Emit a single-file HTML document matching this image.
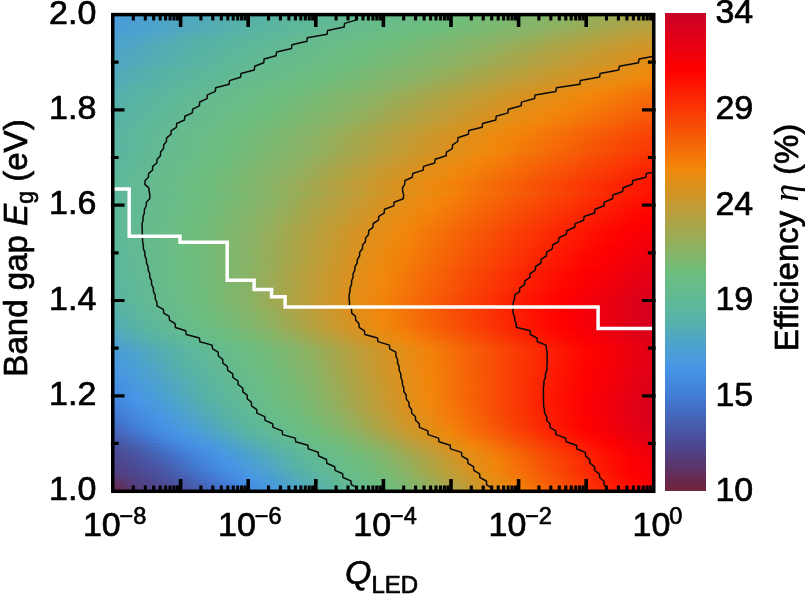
<!DOCTYPE html>
<html><head><meta charset="utf-8"><title>Efficiency map</title>
<style>html,body{margin:0;padding:0;background:#fff;overflow:hidden}svg{display:block}text{font-family:"Liberation Sans",Arial,Helvetica,sans-serif;fill:#000;stroke:#000;stroke-width:.7px;stroke-linejoin:round}</style></head><body>
<svg width="805" height="594" viewBox="0 0 805 594">
<rect width="805" height="594" fill="#fff"/>
<defs>
<linearGradient id="g0"><stop offset="0" stop-color="#499bda"/><stop offset="0.04167" stop-color="#4b9fd3"/><stop offset="0.08333" stop-color="#4ca2cd"/><stop offset="0.125" stop-color="#4fa6c4"/><stop offset="0.1667" stop-color="#51aabb"/><stop offset="0.2083" stop-color="#54aeb2"/><stop offset="0.25" stop-color="#56b1a9"/><stop offset="0.2917" stop-color="#59b3a4"/><stop offset="0.3333" stop-color="#5cb69e"/><stop offset="0.375" stop-color="#5eb899"/><stop offset="0.4167" stop-color="#61b994"/><stop offset="0.4583" stop-color="#64bb8e"/><stop offset="0.5" stop-color="#67bb8a"/><stop offset="0.5417" stop-color="#69bc86"/><stop offset="0.5833" stop-color="#6bbd82"/><stop offset="0.625" stop-color="#6ebe7e"/><stop offset="0.6667" stop-color="#73bc79"/><stop offset="0.7083" stop-color="#79ba74"/><stop offset="0.75" stop-color="#7eb76f"/><stop offset="0.7917" stop-color="#84b56a"/><stop offset="0.8333" stop-color="#8ab265"/><stop offset="0.875" stop-color="#93af5d"/><stop offset="0.9167" stop-color="#9cab55"/><stop offset="0.9583" stop-color="#a5a74d"/><stop offset="1" stop-color="#aea345"/></linearGradient>
<linearGradient id="g1"><stop offset="0" stop-color="#499cd9"/><stop offset="0.04167" stop-color="#4b9fd2"/><stop offset="0.08333" stop-color="#4da3cb"/><stop offset="0.125" stop-color="#4fa7c2"/><stop offset="0.1667" stop-color="#52abb9"/><stop offset="0.2083" stop-color="#54afb0"/><stop offset="0.25" stop-color="#57b2a8"/><stop offset="0.2917" stop-color="#5ab4a2"/><stop offset="0.3333" stop-color="#5db69d"/><stop offset="0.375" stop-color="#5fb897"/><stop offset="0.4167" stop-color="#62ba92"/><stop offset="0.4583" stop-color="#65bb8d"/><stop offset="0.5" stop-color="#67bc89"/><stop offset="0.5417" stop-color="#6abc85"/><stop offset="0.5833" stop-color="#6cbd81"/><stop offset="0.625" stop-color="#6fbe7c"/><stop offset="0.6667" stop-color="#75bb77"/><stop offset="0.7083" stop-color="#7bb972"/><stop offset="0.75" stop-color="#81b66d"/><stop offset="0.7917" stop-color="#86b468"/><stop offset="0.8333" stop-color="#8db162"/><stop offset="0.875" stop-color="#96ad5a"/><stop offset="0.9167" stop-color="#a0a952"/><stop offset="0.9583" stop-color="#a9a549"/><stop offset="1" stop-color="#b2a242"/></linearGradient>
<linearGradient id="g2"><stop offset="0" stop-color="#4a9cd8"/><stop offset="0.04167" stop-color="#4ba0d1"/><stop offset="0.08333" stop-color="#4da3ca"/><stop offset="0.125" stop-color="#50a7c0"/><stop offset="0.1667" stop-color="#52abb7"/><stop offset="0.2083" stop-color="#55afae"/><stop offset="0.25" stop-color="#58b2a7"/><stop offset="0.2917" stop-color="#5ab4a1"/><stop offset="0.3333" stop-color="#5db79c"/><stop offset="0.375" stop-color="#60b996"/><stop offset="0.4167" stop-color="#63ba91"/><stop offset="0.4583" stop-color="#65bb8c"/><stop offset="0.5" stop-color="#68bc88"/><stop offset="0.5417" stop-color="#6abd84"/><stop offset="0.5833" stop-color="#6dbd80"/><stop offset="0.625" stop-color="#70bd7b"/><stop offset="0.6667" stop-color="#76bb76"/><stop offset="0.7083" stop-color="#7cb871"/><stop offset="0.75" stop-color="#82b66b"/><stop offset="0.7917" stop-color="#88b366"/><stop offset="0.8333" stop-color="#90b05f"/><stop offset="0.875" stop-color="#99ac57"/><stop offset="0.9167" stop-color="#a3a84f"/><stop offset="0.9583" stop-color="#aca447"/><stop offset="1" stop-color="#b5a03f"/></linearGradient>
<linearGradient id="g3"><stop offset="0" stop-color="#4a9dd6"/><stop offset="0.04167" stop-color="#4ba1d0"/><stop offset="0.08333" stop-color="#4da4c8"/><stop offset="0.125" stop-color="#50a8be"/><stop offset="0.1667" stop-color="#53acb5"/><stop offset="0.2083" stop-color="#55b0ac"/><stop offset="0.25" stop-color="#58b3a6"/><stop offset="0.2917" stop-color="#5bb5a0"/><stop offset="0.3333" stop-color="#5eb79a"/><stop offset="0.375" stop-color="#61b995"/><stop offset="0.4167" stop-color="#64ba8f"/><stop offset="0.4583" stop-color="#66bb8b"/><stop offset="0.5" stop-color="#69bc87"/><stop offset="0.5417" stop-color="#6bbd82"/><stop offset="0.5833" stop-color="#6dbe7e"/><stop offset="0.625" stop-color="#72bc79"/><stop offset="0.6667" stop-color="#78ba74"/><stop offset="0.7083" stop-color="#7eb76f"/><stop offset="0.75" stop-color="#85b569"/><stop offset="0.7917" stop-color="#8bb264"/><stop offset="0.8333" stop-color="#94ae5c"/><stop offset="0.875" stop-color="#9daa54"/><stop offset="0.9167" stop-color="#a7a64b"/><stop offset="0.9583" stop-color="#b0a243"/><stop offset="1" stop-color="#b99f3b"/></linearGradient>
<linearGradient id="g4"><stop offset="0" stop-color="#4a9ed4"/><stop offset="0.04167" stop-color="#4ca2cd"/><stop offset="0.08333" stop-color="#4fa6c4"/><stop offset="0.125" stop-color="#51aabb"/><stop offset="0.1667" stop-color="#54aeb1"/><stop offset="0.2083" stop-color="#57b2a9"/><stop offset="0.25" stop-color="#5ab4a3"/><stop offset="0.2917" stop-color="#5cb69d"/><stop offset="0.3333" stop-color="#5fb898"/><stop offset="0.375" stop-color="#62ba92"/><stop offset="0.4167" stop-color="#65bb8d"/><stop offset="0.4583" stop-color="#67bc89"/><stop offset="0.5" stop-color="#6abd84"/><stop offset="0.5417" stop-color="#6cbd80"/><stop offset="0.5833" stop-color="#70bd7b"/><stop offset="0.625" stop-color="#76bb76"/><stop offset="0.6667" stop-color="#7cb871"/><stop offset="0.7083" stop-color="#82b66b"/><stop offset="0.75" stop-color="#88b366"/><stop offset="0.7917" stop-color="#90b05f"/><stop offset="0.8333" stop-color="#9aac57"/><stop offset="0.875" stop-color="#a4a84e"/><stop offset="0.9167" stop-color="#ada446"/><stop offset="0.9583" stop-color="#b6a03e"/><stop offset="1" stop-color="#c09c36"/></linearGradient>
<linearGradient id="g5"><stop offset="0" stop-color="#4ba0d1"/><stop offset="0.04167" stop-color="#4da4c9"/><stop offset="0.08333" stop-color="#50a8c0"/><stop offset="0.125" stop-color="#53acb6"/><stop offset="0.1667" stop-color="#55b0ad"/><stop offset="0.2083" stop-color="#58b3a6"/><stop offset="0.25" stop-color="#5bb5a0"/><stop offset="0.2917" stop-color="#5eb79a"/><stop offset="0.3333" stop-color="#61b995"/><stop offset="0.375" stop-color="#64ba8f"/><stop offset="0.4167" stop-color="#66bb8b"/><stop offset="0.4583" stop-color="#69bc86"/><stop offset="0.5" stop-color="#6bbd82"/><stop offset="0.5417" stop-color="#6ebe7d"/><stop offset="0.5833" stop-color="#74bc78"/><stop offset="0.625" stop-color="#7ab973"/><stop offset="0.6667" stop-color="#80b76d"/><stop offset="0.7083" stop-color="#86b468"/><stop offset="0.75" stop-color="#8db162"/><stop offset="0.7917" stop-color="#97ad59"/><stop offset="0.8333" stop-color="#a1a951"/><stop offset="0.875" stop-color="#aba548"/><stop offset="0.9167" stop-color="#b4a140"/><stop offset="0.9583" stop-color="#bd9d38"/><stop offset="1" stop-color="#c79930"/></linearGradient>
<linearGradient id="g6"><stop offset="0" stop-color="#4ca1cf"/><stop offset="0.04167" stop-color="#4ea5c6"/><stop offset="0.08333" stop-color="#51a9bc"/><stop offset="0.125" stop-color="#54aeb2"/><stop offset="0.1667" stop-color="#56b1a9"/><stop offset="0.2083" stop-color="#59b4a3"/><stop offset="0.25" stop-color="#5cb69d"/><stop offset="0.2917" stop-color="#5fb898"/><stop offset="0.3333" stop-color="#62ba92"/><stop offset="0.375" stop-color="#65bb8d"/><stop offset="0.4167" stop-color="#68bc88"/><stop offset="0.4583" stop-color="#6abd84"/><stop offset="0.5" stop-color="#6dbe7f"/><stop offset="0.5417" stop-color="#71bd7a"/><stop offset="0.5833" stop-color="#77ba75"/><stop offset="0.625" stop-color="#7eb86f"/><stop offset="0.6667" stop-color="#84b56a"/><stop offset="0.7083" stop-color="#8ab265"/><stop offset="0.75" stop-color="#93ae5c"/><stop offset="0.7917" stop-color="#9daa54"/><stop offset="0.8333" stop-color="#a7a64b"/><stop offset="0.875" stop-color="#b1a243"/><stop offset="0.9167" stop-color="#ba9e3a"/><stop offset="0.9583" stop-color="#c49a32"/><stop offset="1" stop-color="#cd962a"/></linearGradient>
<linearGradient id="g7"><stop offset="0" stop-color="#4ca2cc"/><stop offset="0.04167" stop-color="#4fa6c3"/><stop offset="0.08333" stop-color="#52abb9"/><stop offset="0.125" stop-color="#55afaf"/><stop offset="0.1667" stop-color="#57b2a7"/><stop offset="0.2083" stop-color="#5ab5a1"/><stop offset="0.25" stop-color="#5db79b"/><stop offset="0.2917" stop-color="#60b995"/><stop offset="0.3333" stop-color="#64ba90"/><stop offset="0.375" stop-color="#66bb8b"/><stop offset="0.4167" stop-color="#69bc86"/><stop offset="0.4583" stop-color="#6bbd82"/><stop offset="0.5" stop-color="#6ebe7d"/><stop offset="0.5417" stop-color="#74bc78"/><stop offset="0.5833" stop-color="#7ab972"/><stop offset="0.625" stop-color="#80b66d"/><stop offset="0.6667" stop-color="#87b467"/><stop offset="0.7083" stop-color="#8eb061"/><stop offset="0.75" stop-color="#99ac58"/><stop offset="0.7917" stop-color="#a3a84f"/><stop offset="0.8333" stop-color="#ada446"/><stop offset="0.875" stop-color="#b6a03e"/><stop offset="0.9167" stop-color="#c09c36"/><stop offset="0.9583" stop-color="#c9982d"/><stop offset="1" stop-color="#d39425"/></linearGradient>
<linearGradient id="g8"><stop offset="0" stop-color="#4da3ca"/><stop offset="0.04167" stop-color="#50a7c0"/><stop offset="0.08333" stop-color="#52acb6"/><stop offset="0.125" stop-color="#55b0ac"/><stop offset="0.1667" stop-color="#58b3a6"/><stop offset="0.2083" stop-color="#5bb5a0"/><stop offset="0.25" stop-color="#5eb89a"/><stop offset="0.2917" stop-color="#61b994"/><stop offset="0.3333" stop-color="#64bb8e"/><stop offset="0.375" stop-color="#67bb8a"/><stop offset="0.4167" stop-color="#6abc85"/><stop offset="0.4583" stop-color="#6cbd80"/><stop offset="0.5" stop-color="#70bd7c"/><stop offset="0.5417" stop-color="#76bb76"/><stop offset="0.5833" stop-color="#7cb870"/><stop offset="0.625" stop-color="#83b56b"/><stop offset="0.6667" stop-color="#89b365"/><stop offset="0.7083" stop-color="#93af5d"/><stop offset="0.75" stop-color="#9dab54"/><stop offset="0.7917" stop-color="#a7a64b"/><stop offset="0.8333" stop-color="#b1a243"/><stop offset="0.875" stop-color="#bb9e3a"/><stop offset="0.9167" stop-color="#c49a32"/><stop offset="0.9583" stop-color="#ce962a"/><stop offset="1" stop-color="#d79221"/></linearGradient>
<linearGradient id="g9"><stop offset="0" stop-color="#4da4c8"/><stop offset="0.04167" stop-color="#50a8be"/><stop offset="0.08333" stop-color="#53adb4"/><stop offset="0.125" stop-color="#56b1aa"/><stop offset="0.1667" stop-color="#59b3a4"/><stop offset="0.2083" stop-color="#5cb69e"/><stop offset="0.25" stop-color="#5fb898"/><stop offset="0.2917" stop-color="#62ba92"/><stop offset="0.3333" stop-color="#65bb8d"/><stop offset="0.375" stop-color="#68bc88"/><stop offset="0.4167" stop-color="#6abd83"/><stop offset="0.4583" stop-color="#6dbe7f"/><stop offset="0.5" stop-color="#72bc79"/><stop offset="0.5417" stop-color="#79ba74"/><stop offset="0.5833" stop-color="#7fb76e"/><stop offset="0.625" stop-color="#86b468"/><stop offset="0.6667" stop-color="#8db162"/><stop offset="0.7083" stop-color="#97ad59"/><stop offset="0.75" stop-color="#a1a950"/><stop offset="0.7917" stop-color="#aca447"/><stop offset="0.8333" stop-color="#b6a03f"/><stop offset="0.875" stop-color="#bf9c36"/><stop offset="0.9167" stop-color="#c9982e"/><stop offset="0.9583" stop-color="#d39425"/><stop offset="1" stop-color="#dd901d"/></linearGradient>
<linearGradient id="g10"><stop offset="0" stop-color="#4ea5c6"/><stop offset="0.04167" stop-color="#51aabb"/><stop offset="0.08333" stop-color="#54aeb1"/><stop offset="0.125" stop-color="#57b2a8"/><stop offset="0.1667" stop-color="#5ab4a2"/><stop offset="0.2083" stop-color="#5db79c"/><stop offset="0.25" stop-color="#60b996"/><stop offset="0.2917" stop-color="#63ba90"/><stop offset="0.3333" stop-color="#66bb8b"/><stop offset="0.375" stop-color="#69bc86"/><stop offset="0.4167" stop-color="#6bbd82"/><stop offset="0.4583" stop-color="#6ebe7d"/><stop offset="0.5" stop-color="#75bb77"/><stop offset="0.5417" stop-color="#7bb972"/><stop offset="0.5833" stop-color="#82b66c"/><stop offset="0.625" stop-color="#88b366"/><stop offset="0.6667" stop-color="#91af5e"/><stop offset="0.7083" stop-color="#9cab55"/><stop offset="0.75" stop-color="#a6a74c"/><stop offset="0.7917" stop-color="#b0a243"/><stop offset="0.8333" stop-color="#ba9e3b"/><stop offset="0.875" stop-color="#c49a32"/><stop offset="0.9167" stop-color="#ce962a"/><stop offset="0.9583" stop-color="#d89221"/><stop offset="1" stop-color="#e18e19"/></linearGradient>
<linearGradient id="g11"><stop offset="0" stop-color="#4ea5c5"/><stop offset="0.04167" stop-color="#51aabb"/><stop offset="0.08333" stop-color="#54aeb1"/><stop offset="0.125" stop-color="#57b2a8"/><stop offset="0.1667" stop-color="#5ab4a2"/><stop offset="0.2083" stop-color="#5db79b"/><stop offset="0.25" stop-color="#60b995"/><stop offset="0.2917" stop-color="#64ba8f"/><stop offset="0.3333" stop-color="#66bb8b"/><stop offset="0.375" stop-color="#69bc86"/><stop offset="0.4167" stop-color="#6cbd81"/><stop offset="0.4583" stop-color="#6fbe7c"/><stop offset="0.5" stop-color="#76bb76"/><stop offset="0.5417" stop-color="#7cb871"/><stop offset="0.5833" stop-color="#83b56b"/><stop offset="0.625" stop-color="#89b365"/><stop offset="0.6667" stop-color="#93af5d"/><stop offset="0.7083" stop-color="#9eaa54"/><stop offset="0.75" stop-color="#a8a64a"/><stop offset="0.7917" stop-color="#b2a242"/><stop offset="0.8333" stop-color="#bc9d39"/><stop offset="0.875" stop-color="#c69930"/><stop offset="0.9167" stop-color="#d09528"/><stop offset="0.9583" stop-color="#da911f"/><stop offset="1" stop-color="#e38d17"/></linearGradient>
<linearGradient id="g12"><stop offset="0" stop-color="#4fa6c4"/><stop offset="0.04167" stop-color="#52aab9"/><stop offset="0.08333" stop-color="#55afaf"/><stop offset="0.125" stop-color="#58b2a7"/><stop offset="0.1667" stop-color="#5bb5a1"/><stop offset="0.2083" stop-color="#5eb79a"/><stop offset="0.25" stop-color="#61b994"/><stop offset="0.2917" stop-color="#64bb8e"/><stop offset="0.3333" stop-color="#67bb8a"/><stop offset="0.375" stop-color="#6abc85"/><stop offset="0.4167" stop-color="#6cbd80"/><stop offset="0.4583" stop-color="#71bd7b"/><stop offset="0.5" stop-color="#77ba75"/><stop offset="0.5417" stop-color="#7eb76f"/><stop offset="0.5833" stop-color="#85b569"/><stop offset="0.625" stop-color="#8bb263"/><stop offset="0.6667" stop-color="#96ad5a"/><stop offset="0.7083" stop-color="#a1a951"/><stop offset="0.75" stop-color="#aba447"/><stop offset="0.7917" stop-color="#b6a03f"/><stop offset="0.8333" stop-color="#c09c36"/><stop offset="0.875" stop-color="#ca982d"/><stop offset="0.9167" stop-color="#d49424"/><stop offset="0.9583" stop-color="#de8f1c"/><stop offset="1" stop-color="#e68c15"/></linearGradient>
<linearGradient id="g13"><stop offset="0" stop-color="#50a8bf"/><stop offset="0.04167" stop-color="#53adb4"/><stop offset="0.08333" stop-color="#56b1aa"/><stop offset="0.125" stop-color="#59b4a4"/><stop offset="0.1667" stop-color="#5cb69d"/><stop offset="0.2083" stop-color="#60b997"/><stop offset="0.25" stop-color="#63ba91"/><stop offset="0.2917" stop-color="#66bb8b"/><stop offset="0.3333" stop-color="#69bc87"/><stop offset="0.375" stop-color="#6bbd82"/><stop offset="0.4167" stop-color="#6ebe7d"/><stop offset="0.4583" stop-color="#75bb77"/><stop offset="0.5" stop-color="#7cb871"/><stop offset="0.5417" stop-color="#83b56b"/><stop offset="0.5833" stop-color="#89b365"/><stop offset="0.625" stop-color="#93af5d"/><stop offset="0.6667" stop-color="#9eaa53"/><stop offset="0.7083" stop-color="#a9a54a"/><stop offset="0.75" stop-color="#b3a141"/><stop offset="0.7917" stop-color="#bd9d38"/><stop offset="0.8333" stop-color="#c8992f"/><stop offset="0.875" stop-color="#d29426"/><stop offset="0.9167" stop-color="#dc901d"/><stop offset="0.9583" stop-color="#e58d16"/><stop offset="1" stop-color="#ed890e"/></linearGradient>
<linearGradient id="g14"><stop offset="0" stop-color="#51a9bd"/><stop offset="0.04167" stop-color="#54adb2"/><stop offset="0.08333" stop-color="#57b2a9"/><stop offset="0.125" stop-color="#5ab4a2"/><stop offset="0.1667" stop-color="#5db79c"/><stop offset="0.2083" stop-color="#60b996"/><stop offset="0.25" stop-color="#64ba8f"/><stop offset="0.2917" stop-color="#67bb8a"/><stop offset="0.3333" stop-color="#69bc85"/><stop offset="0.375" stop-color="#6cbd81"/><stop offset="0.4167" stop-color="#70bd7b"/><stop offset="0.4583" stop-color="#77ba75"/><stop offset="0.5" stop-color="#7eb76f"/><stop offset="0.5417" stop-color="#85b569"/><stop offset="0.5833" stop-color="#8cb263"/><stop offset="0.625" stop-color="#97ad5a"/><stop offset="0.6667" stop-color="#a2a850"/><stop offset="0.7083" stop-color="#ada446"/><stop offset="0.75" stop-color="#b7a03d"/><stop offset="0.7917" stop-color="#c19b34"/><stop offset="0.8333" stop-color="#cc972b"/><stop offset="0.875" stop-color="#d69322"/><stop offset="0.9167" stop-color="#e08f1a"/><stop offset="0.9583" stop-color="#e88b13"/><stop offset="1" stop-color="#f1880b"/></linearGradient>
<linearGradient id="g15"><stop offset="0" stop-color="#51a9bc"/><stop offset="0.04167" stop-color="#54aeb1"/><stop offset="0.08333" stop-color="#57b2a8"/><stop offset="0.125" stop-color="#5ab4a2"/><stop offset="0.1667" stop-color="#5db79b"/><stop offset="0.2083" stop-color="#61b995"/><stop offset="0.25" stop-color="#64ba8f"/><stop offset="0.2917" stop-color="#67bb8a"/><stop offset="0.3333" stop-color="#6abc85"/><stop offset="0.375" stop-color="#6cbd80"/><stop offset="0.4167" stop-color="#71bd7a"/><stop offset="0.4583" stop-color="#78ba74"/><stop offset="0.5" stop-color="#7fb76e"/><stop offset="0.5417" stop-color="#86b468"/><stop offset="0.5833" stop-color="#8eb161"/><stop offset="0.625" stop-color="#99ac58"/><stop offset="0.6667" stop-color="#a4a74e"/><stop offset="0.7083" stop-color="#afa344"/><stop offset="0.75" stop-color="#b99f3b"/><stop offset="0.7917" stop-color="#c49a32"/><stop offset="0.8333" stop-color="#ce9629"/><stop offset="0.875" stop-color="#d99220"/><stop offset="0.9167" stop-color="#e28e18"/><stop offset="0.9583" stop-color="#eb8a10"/><stop offset="1" stop-color="#f2860a"/></linearGradient>
<linearGradient id="g16"><stop offset="0" stop-color="#52abb9"/><stop offset="0.04167" stop-color="#55afae"/><stop offset="0.08333" stop-color="#58b3a6"/><stop offset="0.125" stop-color="#5bb59f"/><stop offset="0.1667" stop-color="#5fb899"/><stop offset="0.2083" stop-color="#62ba92"/><stop offset="0.25" stop-color="#65bb8c"/><stop offset="0.2917" stop-color="#68bc87"/><stop offset="0.3333" stop-color="#6bbd82"/><stop offset="0.375" stop-color="#6ebe7d"/><stop offset="0.4167" stop-color="#74bb77"/><stop offset="0.4583" stop-color="#7cb871"/><stop offset="0.5" stop-color="#83b56b"/><stop offset="0.5417" stop-color="#8ab265"/><stop offset="0.5833" stop-color="#94ae5c"/><stop offset="0.625" stop-color="#9fa952"/><stop offset="0.6667" stop-color="#aaa548"/><stop offset="0.7083" stop-color="#b5a03f"/><stop offset="0.75" stop-color="#c09c36"/><stop offset="0.7917" stop-color="#ca982d"/><stop offset="0.8333" stop-color="#d59323"/><stop offset="0.875" stop-color="#df8f1b"/><stop offset="0.9167" stop-color="#e88b13"/><stop offset="0.9583" stop-color="#f0880b"/><stop offset="1" stop-color="#f37f09"/></linearGradient>
<linearGradient id="g17"><stop offset="0" stop-color="#53acb6"/><stop offset="0.04167" stop-color="#56b1ab"/><stop offset="0.08333" stop-color="#59b3a4"/><stop offset="0.125" stop-color="#5cb69d"/><stop offset="0.1667" stop-color="#60b997"/><stop offset="0.2083" stop-color="#63ba90"/><stop offset="0.25" stop-color="#66bb8b"/><stop offset="0.2917" stop-color="#69bc86"/><stop offset="0.3333" stop-color="#6cbd81"/><stop offset="0.375" stop-color="#70bd7b"/><stop offset="0.4167" stop-color="#77ba75"/><stop offset="0.4583" stop-color="#7eb76f"/><stop offset="0.5" stop-color="#85b469"/><stop offset="0.5417" stop-color="#8db162"/><stop offset="0.5833" stop-color="#99ac58"/><stop offset="0.625" stop-color="#a4a84e"/><stop offset="0.6667" stop-color="#afa344"/><stop offset="0.7083" stop-color="#ba9e3b"/><stop offset="0.75" stop-color="#c59a32"/><stop offset="0.7917" stop-color="#cf9528"/><stop offset="0.8333" stop-color="#da911f"/><stop offset="0.875" stop-color="#e38d17"/><stop offset="0.9167" stop-color="#ec890f"/><stop offset="0.9583" stop-color="#f2840a"/><stop offset="1" stop-color="#f37a09"/></linearGradient>
<linearGradient id="g18"><stop offset="0" stop-color="#53adb3"/><stop offset="0.04167" stop-color="#57b2a9"/><stop offset="0.08333" stop-color="#5ab4a2"/><stop offset="0.125" stop-color="#5db79b"/><stop offset="0.1667" stop-color="#61b995"/><stop offset="0.2083" stop-color="#64bb8e"/><stop offset="0.25" stop-color="#67bc89"/><stop offset="0.2917" stop-color="#6abd84"/><stop offset="0.3333" stop-color="#6dbe7f"/><stop offset="0.375" stop-color="#73bc79"/><stop offset="0.4167" stop-color="#7ab973"/><stop offset="0.4583" stop-color="#81b66c"/><stop offset="0.5" stop-color="#88b366"/><stop offset="0.5417" stop-color="#92af5d"/><stop offset="0.5833" stop-color="#9eaa53"/><stop offset="0.625" stop-color="#a9a549"/><stop offset="0.6667" stop-color="#b4a140"/><stop offset="0.7083" stop-color="#bf9c36"/><stop offset="0.75" stop-color="#ca982d"/><stop offset="0.7917" stop-color="#d59323"/><stop offset="0.8333" stop-color="#df8f1a"/><stop offset="0.875" stop-color="#e88b13"/><stop offset="0.9167" stop-color="#f1870b"/><stop offset="0.9583" stop-color="#f37e09"/><stop offset="1" stop-color="#f47409"/></linearGradient>
<linearGradient id="g19"><stop offset="0" stop-color="#55afaf"/><stop offset="0.04167" stop-color="#58b3a6"/><stop offset="0.08333" stop-color="#5bb59f"/><stop offset="0.125" stop-color="#5fb898"/><stop offset="0.1667" stop-color="#62ba92"/><stop offset="0.2083" stop-color="#66bb8c"/><stop offset="0.25" stop-color="#69bc87"/><stop offset="0.2917" stop-color="#6bbd81"/><stop offset="0.3333" stop-color="#6fbe7c"/><stop offset="0.375" stop-color="#76ba76"/><stop offset="0.4167" stop-color="#7eb76f"/><stop offset="0.4583" stop-color="#85b469"/><stop offset="0.5" stop-color="#8db162"/><stop offset="0.5417" stop-color="#99ac58"/><stop offset="0.5833" stop-color="#a5a74d"/><stop offset="0.625" stop-color="#b0a344"/><stop offset="0.6667" stop-color="#bb9e3a"/><stop offset="0.7083" stop-color="#c69930"/><stop offset="0.75" stop-color="#d19527"/><stop offset="0.7917" stop-color="#dc901d"/><stop offset="0.8333" stop-color="#e58c15"/><stop offset="0.875" stop-color="#ee880d"/><stop offset="0.9167" stop-color="#f3810a"/><stop offset="0.9583" stop-color="#f47709"/><stop offset="1" stop-color="#f46d08"/></linearGradient>
<linearGradient id="g20"><stop offset="0" stop-color="#55b0ad"/><stop offset="0.04167" stop-color="#59b3a5"/><stop offset="0.08333" stop-color="#5cb69e"/><stop offset="0.125" stop-color="#60b997"/><stop offset="0.1667" stop-color="#63ba90"/><stop offset="0.2083" stop-color="#66bb8b"/><stop offset="0.25" stop-color="#69bc85"/><stop offset="0.2917" stop-color="#6cbd80"/><stop offset="0.3333" stop-color="#71bd7a"/><stop offset="0.375" stop-color="#79ba74"/><stop offset="0.4167" stop-color="#80b76d"/><stop offset="0.4583" stop-color="#87b367"/><stop offset="0.5" stop-color="#91af5f"/><stop offset="0.5417" stop-color="#9daa54"/><stop offset="0.5833" stop-color="#a9a64a"/><stop offset="0.625" stop-color="#b4a140"/><stop offset="0.6667" stop-color="#bf9c36"/><stop offset="0.7083" stop-color="#ca982d"/><stop offset="0.75" stop-color="#d59323"/><stop offset="0.7917" stop-color="#e08f1a"/><stop offset="0.8333" stop-color="#e98b12"/><stop offset="0.875" stop-color="#f2870a"/><stop offset="0.9167" stop-color="#f37d09"/><stop offset="0.9583" stop-color="#f47308"/><stop offset="1" stop-color="#f56908"/></linearGradient>
<linearGradient id="g21"><stop offset="0" stop-color="#56b1ab"/><stop offset="0.04167" stop-color="#59b4a4"/><stop offset="0.08333" stop-color="#5db69d"/><stop offset="0.125" stop-color="#60b996"/><stop offset="0.1667" stop-color="#64ba8f"/><stop offset="0.2083" stop-color="#67bb8a"/><stop offset="0.25" stop-color="#6abd84"/><stop offset="0.2917" stop-color="#6dbe7f"/><stop offset="0.3333" stop-color="#73bc79"/><stop offset="0.375" stop-color="#7ab972"/><stop offset="0.4167" stop-color="#82b66c"/><stop offset="0.4583" stop-color="#89b365"/><stop offset="0.5" stop-color="#94ae5c"/><stop offset="0.5417" stop-color="#a0a951"/><stop offset="0.5833" stop-color="#aca447"/><stop offset="0.625" stop-color="#b79f3d"/><stop offset="0.6667" stop-color="#c29b33"/><stop offset="0.7083" stop-color="#ce962a"/><stop offset="0.75" stop-color="#d99120"/><stop offset="0.7917" stop-color="#e38d17"/><stop offset="0.8333" stop-color="#ec890f"/><stop offset="0.875" stop-color="#f2830a"/><stop offset="0.9167" stop-color="#f37909"/><stop offset="0.9583" stop-color="#f46f08"/><stop offset="1" stop-color="#f56507"/></linearGradient>
<linearGradient id="g22"><stop offset="0" stop-color="#56b1aa"/><stop offset="0.04167" stop-color="#59b4a3"/><stop offset="0.08333" stop-color="#5db79c"/><stop offset="0.125" stop-color="#61b995"/><stop offset="0.1667" stop-color="#64bb8e"/><stop offset="0.2083" stop-color="#67bc89"/><stop offset="0.25" stop-color="#6abd84"/><stop offset="0.2917" stop-color="#6dbe7e"/><stop offset="0.3333" stop-color="#74bb78"/><stop offset="0.375" stop-color="#7cb871"/><stop offset="0.4167" stop-color="#83b56b"/><stop offset="0.4583" stop-color="#8bb264"/><stop offset="0.5" stop-color="#97ad5a"/><stop offset="0.5417" stop-color="#a3a84f"/><stop offset="0.5833" stop-color="#afa345"/><stop offset="0.625" stop-color="#ba9e3b"/><stop offset="0.6667" stop-color="#c59a31"/><stop offset="0.7083" stop-color="#d19527"/><stop offset="0.75" stop-color="#dc901d"/><stop offset="0.7917" stop-color="#e68c15"/><stop offset="0.8333" stop-color="#ef880d"/><stop offset="0.875" stop-color="#f38009"/><stop offset="0.9167" stop-color="#f47609"/><stop offset="0.9583" stop-color="#f56c08"/><stop offset="1" stop-color="#f66107"/></linearGradient>
<linearGradient id="g23"><stop offset="0" stop-color="#56b1a9"/><stop offset="0.04167" stop-color="#5ab4a2"/><stop offset="0.08333" stop-color="#5eb79b"/><stop offset="0.125" stop-color="#61b994"/><stop offset="0.1667" stop-color="#65bb8d"/><stop offset="0.2083" stop-color="#68bc88"/><stop offset="0.25" stop-color="#6bbd82"/><stop offset="0.2917" stop-color="#6ebe7d"/><stop offset="0.3333" stop-color="#76bb76"/><stop offset="0.375" stop-color="#7db870"/><stop offset="0.4167" stop-color="#85b469"/><stop offset="0.4583" stop-color="#8eb161"/><stop offset="0.5" stop-color="#9aac57"/><stop offset="0.5417" stop-color="#a6a74c"/><stop offset="0.5833" stop-color="#b2a242"/><stop offset="0.625" stop-color="#bd9d38"/><stop offset="0.6667" stop-color="#c9982e"/><stop offset="0.7083" stop-color="#d49324"/><stop offset="0.75" stop-color="#df8f1a"/><stop offset="0.7917" stop-color="#e98b12"/><stop offset="0.8333" stop-color="#f2870a"/><stop offset="0.875" stop-color="#f37c09"/><stop offset="0.9167" stop-color="#f47208"/><stop offset="0.9583" stop-color="#f56808"/><stop offset="1" stop-color="#f65d07"/></linearGradient>
<linearGradient id="g24"><stop offset="0" stop-color="#57b2a8"/><stop offset="0.04167" stop-color="#5bb5a1"/><stop offset="0.08333" stop-color="#5eb89a"/><stop offset="0.125" stop-color="#62ba92"/><stop offset="0.1667" stop-color="#65bb8c"/><stop offset="0.2083" stop-color="#69bc87"/><stop offset="0.25" stop-color="#6cbd81"/><stop offset="0.2917" stop-color="#70bd7b"/><stop offset="0.3333" stop-color="#78ba75"/><stop offset="0.375" stop-color="#7fb76e"/><stop offset="0.4167" stop-color="#87b467"/><stop offset="0.4583" stop-color="#91af5e"/><stop offset="0.5" stop-color="#9daa54"/><stop offset="0.5417" stop-color="#aaa549"/><stop offset="0.5833" stop-color="#b6a03f"/><stop offset="0.625" stop-color="#c19b35"/><stop offset="0.6667" stop-color="#cd962a"/><stop offset="0.7083" stop-color="#d89220"/><stop offset="0.75" stop-color="#e38d17"/><stop offset="0.7917" stop-color="#ed890f"/><stop offset="0.8333" stop-color="#f2830a"/><stop offset="0.875" stop-color="#f37809"/><stop offset="0.9167" stop-color="#f46e08"/><stop offset="0.9583" stop-color="#f56307"/><stop offset="1" stop-color="#f65907"/></linearGradient>
<linearGradient id="g25"><stop offset="0" stop-color="#57b2a7"/><stop offset="0.04167" stop-color="#5bb5a0"/><stop offset="0.08333" stop-color="#5fb899"/><stop offset="0.125" stop-color="#62ba92"/><stop offset="0.1667" stop-color="#66bb8c"/><stop offset="0.2083" stop-color="#69bc86"/><stop offset="0.25" stop-color="#6cbd80"/><stop offset="0.2917" stop-color="#71bd7a"/><stop offset="0.3333" stop-color="#79b973"/><stop offset="0.375" stop-color="#81b66d"/><stop offset="0.4167" stop-color="#89b366"/><stop offset="0.4583" stop-color="#94ae5c"/><stop offset="0.5" stop-color="#a0a951"/><stop offset="0.5417" stop-color="#ada447"/><stop offset="0.5833" stop-color="#b89f3c"/><stop offset="0.625" stop-color="#c49a32"/><stop offset="0.6667" stop-color="#d09528"/><stop offset="0.7083" stop-color="#dc901e"/><stop offset="0.75" stop-color="#e68c15"/><stop offset="0.7917" stop-color="#ef880c"/><stop offset="0.8333" stop-color="#f37f09"/><stop offset="0.875" stop-color="#f47509"/><stop offset="0.9167" stop-color="#f56a08"/><stop offset="0.9583" stop-color="#f66007"/><stop offset="1" stop-color="#f75506"/></linearGradient>
<linearGradient id="g26"><stop offset="0" stop-color="#58b2a7"/><stop offset="0.04167" stop-color="#5bb59f"/><stop offset="0.08333" stop-color="#5fb898"/><stop offset="0.125" stop-color="#63ba91"/><stop offset="0.1667" stop-color="#66bb8b"/><stop offset="0.2083" stop-color="#69bc85"/><stop offset="0.25" stop-color="#6dbe7f"/><stop offset="0.2917" stop-color="#72bc79"/><stop offset="0.3333" stop-color="#7ab972"/><stop offset="0.375" stop-color="#82b66b"/><stop offset="0.4167" stop-color="#8ab264"/><stop offset="0.4583" stop-color="#96ad5a"/><stop offset="0.5" stop-color="#a3a84f"/><stop offset="0.5417" stop-color="#afa344"/><stop offset="0.5833" stop-color="#bb9e3a"/><stop offset="0.625" stop-color="#c7992f"/><stop offset="0.6667" stop-color="#d39425"/><stop offset="0.7083" stop-color="#de8f1b"/><stop offset="0.75" stop-color="#e88b12"/><stop offset="0.7917" stop-color="#f2870a"/><stop offset="0.8333" stop-color="#f37c09"/><stop offset="0.875" stop-color="#f47208"/><stop offset="0.9167" stop-color="#f56708"/><stop offset="0.9583" stop-color="#f65c07"/><stop offset="1" stop-color="#f75206"/></linearGradient>
<linearGradient id="g27"><stop offset="0" stop-color="#59b3a5"/><stop offset="0.04167" stop-color="#5cb69d"/><stop offset="0.08333" stop-color="#60b996"/><stop offset="0.125" stop-color="#64ba8f"/><stop offset="0.1667" stop-color="#67bc89"/><stop offset="0.2083" stop-color="#6bbd83"/><stop offset="0.25" stop-color="#6ebe7e"/><stop offset="0.2917" stop-color="#75bb77"/><stop offset="0.3333" stop-color="#7db870"/><stop offset="0.375" stop-color="#85b469"/><stop offset="0.4167" stop-color="#8fb061"/><stop offset="0.4583" stop-color="#9bab55"/><stop offset="0.5" stop-color="#a8a64a"/><stop offset="0.5417" stop-color="#b4a140"/><stop offset="0.5833" stop-color="#c09c35"/><stop offset="0.625" stop-color="#cd972b"/><stop offset="0.6667" stop-color="#d99220"/><stop offset="0.7083" stop-color="#e38d17"/><stop offset="0.75" stop-color="#ed890e"/><stop offset="0.7917" stop-color="#f3810a"/><stop offset="0.8333" stop-color="#f47709"/><stop offset="0.875" stop-color="#f56c08"/><stop offset="0.9167" stop-color="#f66107"/><stop offset="0.9583" stop-color="#f75606"/><stop offset="1" stop-color="#f84b06"/></linearGradient>
<linearGradient id="g28"><stop offset="0" stop-color="#59b4a4"/><stop offset="0.04167" stop-color="#5db79c"/><stop offset="0.08333" stop-color="#61b995"/><stop offset="0.125" stop-color="#65bb8e"/><stop offset="0.1667" stop-color="#68bc88"/><stop offset="0.2083" stop-color="#6bbd82"/><stop offset="0.25" stop-color="#6fbe7c"/><stop offset="0.2917" stop-color="#77ba75"/><stop offset="0.3333" stop-color="#7fb76e"/><stop offset="0.375" stop-color="#87b367"/><stop offset="0.4167" stop-color="#92af5e"/><stop offset="0.4583" stop-color="#9faa52"/><stop offset="0.5" stop-color="#aca447"/><stop offset="0.5417" stop-color="#b89f3c"/><stop offset="0.5833" stop-color="#c49a32"/><stop offset="0.625" stop-color="#d09527"/><stop offset="0.6667" stop-color="#dd901d"/><stop offset="0.7083" stop-color="#e78c14"/><stop offset="0.75" stop-color="#f1870b"/><stop offset="0.7917" stop-color="#f37d09"/><stop offset="0.8333" stop-color="#f47208"/><stop offset="0.875" stop-color="#f56708"/><stop offset="0.9167" stop-color="#f65c07"/><stop offset="0.9583" stop-color="#f75206"/><stop offset="1" stop-color="#f84705"/></linearGradient>
<linearGradient id="g29"><stop offset="0" stop-color="#5ab4a3"/><stop offset="0.04167" stop-color="#5db79b"/><stop offset="0.08333" stop-color="#61b994"/><stop offset="0.125" stop-color="#65bb8d"/><stop offset="0.1667" stop-color="#68bc87"/><stop offset="0.2083" stop-color="#6cbd81"/><stop offset="0.25" stop-color="#70bd7b"/><stop offset="0.2917" stop-color="#79ba74"/><stop offset="0.3333" stop-color="#81b66d"/><stop offset="0.375" stop-color="#89b365"/><stop offset="0.4167" stop-color="#95ae5b"/><stop offset="0.4583" stop-color="#a2a850"/><stop offset="0.5" stop-color="#afa345"/><stop offset="0.5417" stop-color="#bb9e3a"/><stop offset="0.5833" stop-color="#c7992f"/><stop offset="0.625" stop-color="#d49424"/><stop offset="0.6667" stop-color="#e08f1a"/><stop offset="0.7083" stop-color="#ea8a11"/><stop offset="0.75" stop-color="#f2850a"/><stop offset="0.7917" stop-color="#f37a09"/><stop offset="0.8333" stop-color="#f46f08"/><stop offset="0.875" stop-color="#f56407"/><stop offset="0.9167" stop-color="#f65907"/><stop offset="0.9583" stop-color="#f84e06"/><stop offset="1" stop-color="#f94305"/></linearGradient>
<linearGradient id="g30"><stop offset="0" stop-color="#5ab4a2"/><stop offset="0.04167" stop-color="#5eb79a"/><stop offset="0.08333" stop-color="#62ba93"/><stop offset="0.125" stop-color="#66bb8c"/><stop offset="0.1667" stop-color="#69bc86"/><stop offset="0.2083" stop-color="#6cbd80"/><stop offset="0.25" stop-color="#72bc7a"/><stop offset="0.2917" stop-color="#7ab972"/><stop offset="0.3333" stop-color="#83b56b"/><stop offset="0.375" stop-color="#8bb264"/><stop offset="0.4167" stop-color="#98ad58"/><stop offset="0.4583" stop-color="#a5a74d"/><stop offset="0.5" stop-color="#b2a242"/><stop offset="0.5417" stop-color="#be9c37"/><stop offset="0.5833" stop-color="#cb972c"/><stop offset="0.625" stop-color="#d79221"/><stop offset="0.6667" stop-color="#e38d17"/><stop offset="0.7083" stop-color="#ed890e"/><stop offset="0.75" stop-color="#f3810a"/><stop offset="0.7917" stop-color="#f47609"/><stop offset="0.8333" stop-color="#f56b08"/><stop offset="0.875" stop-color="#f66007"/><stop offset="0.9167" stop-color="#f75506"/><stop offset="0.9583" stop-color="#f84905"/><stop offset="1" stop-color="#f93e05"/></linearGradient>
<linearGradient id="g31"><stop offset="0" stop-color="#5ab4a1"/><stop offset="0.04167" stop-color="#5eb89a"/><stop offset="0.08333" stop-color="#62ba92"/><stop offset="0.125" stop-color="#66bb8b"/><stop offset="0.1667" stop-color="#69bc85"/><stop offset="0.2083" stop-color="#6dbe7f"/><stop offset="0.25" stop-color="#73bc79"/><stop offset="0.2917" stop-color="#7bb871"/><stop offset="0.3333" stop-color="#84b56a"/><stop offset="0.375" stop-color="#8db162"/><stop offset="0.4167" stop-color="#9aac57"/><stop offset="0.4583" stop-color="#a7a64b"/><stop offset="0.5" stop-color="#b4a140"/><stop offset="0.5417" stop-color="#c19c35"/><stop offset="0.5833" stop-color="#cd962a"/><stop offset="0.625" stop-color="#da911f"/><stop offset="0.6667" stop-color="#e58c15"/><stop offset="0.7083" stop-color="#ef880c"/><stop offset="0.75" stop-color="#f37f09"/><stop offset="0.7917" stop-color="#f47309"/><stop offset="0.8333" stop-color="#f56808"/><stop offset="0.875" stop-color="#f65d07"/><stop offset="0.9167" stop-color="#f75206"/><stop offset="0.9583" stop-color="#f84605"/><stop offset="1" stop-color="#f93b04"/></linearGradient>
<linearGradient id="g32"><stop offset="0" stop-color="#5ab4a2"/><stop offset="0.04167" stop-color="#5eb79a"/><stop offset="0.08333" stop-color="#62ba92"/><stop offset="0.125" stop-color="#66bb8b"/><stop offset="0.1667" stop-color="#69bc85"/><stop offset="0.2083" stop-color="#6dbe7f"/><stop offset="0.25" stop-color="#73bc78"/><stop offset="0.2917" stop-color="#7cb871"/><stop offset="0.3333" stop-color="#84b56a"/><stop offset="0.375" stop-color="#8db162"/><stop offset="0.4167" stop-color="#9bab56"/><stop offset="0.4583" stop-color="#a8a64a"/><stop offset="0.5" stop-color="#b5a03f"/><stop offset="0.5417" stop-color="#c29b34"/><stop offset="0.5833" stop-color="#ce9629"/><stop offset="0.625" stop-color="#db911e"/><stop offset="0.6667" stop-color="#e68c14"/><stop offset="0.7083" stop-color="#f0880b"/><stop offset="0.75" stop-color="#f37d09"/><stop offset="0.7917" stop-color="#f47208"/><stop offset="0.8333" stop-color="#f56708"/><stop offset="0.875" stop-color="#f65b07"/><stop offset="0.9167" stop-color="#f75006"/><stop offset="0.9583" stop-color="#f84405"/><stop offset="1" stop-color="#fa3904"/></linearGradient>
<linearGradient id="g33"><stop offset="0" stop-color="#5ab4a2"/><stop offset="0.04167" stop-color="#5eb79a"/><stop offset="0.08333" stop-color="#62ba92"/><stop offset="0.125" stop-color="#66bb8b"/><stop offset="0.1667" stop-color="#69bc85"/><stop offset="0.2083" stop-color="#6dbe7f"/><stop offset="0.25" stop-color="#73bc78"/><stop offset="0.2917" stop-color="#7cb871"/><stop offset="0.3333" stop-color="#84b569"/><stop offset="0.375" stop-color="#8eb161"/><stop offset="0.4167" stop-color="#9cab55"/><stop offset="0.4583" stop-color="#a9a549"/><stop offset="0.5" stop-color="#b6a03e"/><stop offset="0.5417" stop-color="#c39b33"/><stop offset="0.5833" stop-color="#d09528"/><stop offset="0.625" stop-color="#dc901d"/><stop offset="0.6667" stop-color="#e78c14"/><stop offset="0.7083" stop-color="#f2870a"/><stop offset="0.75" stop-color="#f37c09"/><stop offset="0.7917" stop-color="#f47008"/><stop offset="0.8333" stop-color="#f56507"/><stop offset="0.875" stop-color="#f65907"/><stop offset="0.9167" stop-color="#f74e06"/><stop offset="0.9583" stop-color="#f94205"/><stop offset="1" stop-color="#fa3704"/></linearGradient>
<linearGradient id="g34"><stop offset="0" stop-color="#5ab4a2"/><stop offset="0.04167" stop-color="#5eb89a"/><stop offset="0.08333" stop-color="#62ba92"/><stop offset="0.125" stop-color="#66bb8b"/><stop offset="0.1667" stop-color="#6abc85"/><stop offset="0.2083" stop-color="#6dbe7f"/><stop offset="0.25" stop-color="#74bb78"/><stop offset="0.2917" stop-color="#7db870"/><stop offset="0.3333" stop-color="#85b469"/><stop offset="0.375" stop-color="#90b060"/><stop offset="0.4167" stop-color="#9daa54"/><stop offset="0.4583" stop-color="#aba548"/><stop offset="0.5" stop-color="#b89f3d"/><stop offset="0.5417" stop-color="#c59a31"/><stop offset="0.5833" stop-color="#d29426"/><stop offset="0.625" stop-color="#de8f1b"/><stop offset="0.6667" stop-color="#e98b12"/><stop offset="0.7083" stop-color="#f2850a"/><stop offset="0.75" stop-color="#f37a09"/><stop offset="0.7917" stop-color="#f46e08"/><stop offset="0.8333" stop-color="#f66207"/><stop offset="0.875" stop-color="#f75706"/><stop offset="0.9167" stop-color="#f84b06"/><stop offset="0.9583" stop-color="#f94005"/><stop offset="1" stop-color="#fa3404"/></linearGradient>
<linearGradient id="g35"><stop offset="0" stop-color="#5bb5a0"/><stop offset="0.04167" stop-color="#5fb898"/><stop offset="0.08333" stop-color="#63ba90"/><stop offset="0.125" stop-color="#67bb8a"/><stop offset="0.1667" stop-color="#6abd83"/><stop offset="0.2083" stop-color="#6ebe7d"/><stop offset="0.25" stop-color="#76ba76"/><stop offset="0.2917" stop-color="#7fb76e"/><stop offset="0.3333" stop-color="#88b366"/><stop offset="0.375" stop-color="#94ae5c"/><stop offset="0.4167" stop-color="#a2a850"/><stop offset="0.4583" stop-color="#afa344"/><stop offset="0.5" stop-color="#bd9d39"/><stop offset="0.5417" stop-color="#ca982d"/><stop offset="0.5833" stop-color="#d79222"/><stop offset="0.625" stop-color="#e38d17"/><stop offset="0.6667" stop-color="#ed890e"/><stop offset="0.7083" stop-color="#f38009"/><stop offset="0.75" stop-color="#f47409"/><stop offset="0.7917" stop-color="#f56908"/><stop offset="0.8333" stop-color="#f65d07"/><stop offset="0.875" stop-color="#f75106"/><stop offset="0.9167" stop-color="#f84505"/><stop offset="0.9583" stop-color="#f93a04"/><stop offset="1" stop-color="#fb2e03"/></linearGradient>
<linearGradient id="g36"><stop offset="0" stop-color="#5bb59f"/><stop offset="0.04167" stop-color="#5fb897"/><stop offset="0.08333" stop-color="#64ba8f"/><stop offset="0.125" stop-color="#67bc89"/><stop offset="0.1667" stop-color="#6bbd83"/><stop offset="0.2083" stop-color="#6fbe7c"/><stop offset="0.25" stop-color="#78ba75"/><stop offset="0.2917" stop-color="#80b66d"/><stop offset="0.3333" stop-color="#89b365"/><stop offset="0.375" stop-color="#96ad5a"/><stop offset="0.4167" stop-color="#a4a74e"/><stop offset="0.4583" stop-color="#b2a242"/><stop offset="0.5" stop-color="#bf9c36"/><stop offset="0.5417" stop-color="#cc972b"/><stop offset="0.5833" stop-color="#d9911f"/><stop offset="0.625" stop-color="#e58c15"/><stop offset="0.6667" stop-color="#f0880c"/><stop offset="0.7083" stop-color="#f37d09"/><stop offset="0.75" stop-color="#f47108"/><stop offset="0.7917" stop-color="#f56608"/><stop offset="0.8333" stop-color="#f65a07"/><stop offset="0.875" stop-color="#f84e06"/><stop offset="0.9167" stop-color="#f94205"/><stop offset="0.9583" stop-color="#fa3604"/><stop offset="1" stop-color="#fb2a03"/></linearGradient>
<linearGradient id="g37"><stop offset="0" stop-color="#5cb59f"/><stop offset="0.04167" stop-color="#60b997"/><stop offset="0.08333" stop-color="#64ba8f"/><stop offset="0.125" stop-color="#68bc88"/><stop offset="0.1667" stop-color="#6bbd82"/><stop offset="0.2083" stop-color="#70bd7b"/><stop offset="0.25" stop-color="#79b974"/><stop offset="0.2917" stop-color="#82b66c"/><stop offset="0.3333" stop-color="#8bb264"/><stop offset="0.375" stop-color="#99ac58"/><stop offset="0.4167" stop-color="#a7a64c"/><stop offset="0.4583" stop-color="#b4a140"/><stop offset="0.5" stop-color="#c29b34"/><stop offset="0.5417" stop-color="#cf9628"/><stop offset="0.5833" stop-color="#dc901d"/><stop offset="0.625" stop-color="#e88b13"/><stop offset="0.6667" stop-color="#f2860a"/><stop offset="0.7083" stop-color="#f37a09"/><stop offset="0.75" stop-color="#f46e08"/><stop offset="0.7917" stop-color="#f66207"/><stop offset="0.8333" stop-color="#f75606"/><stop offset="0.875" stop-color="#f84a06"/><stop offset="0.9167" stop-color="#f93e05"/><stop offset="0.9583" stop-color="#fa3204"/><stop offset="1" stop-color="#fb2603"/></linearGradient>
<linearGradient id="g38"><stop offset="0" stop-color="#5cb69e"/><stop offset="0.04167" stop-color="#60b995"/><stop offset="0.08333" stop-color="#65bb8d"/><stop offset="0.125" stop-color="#68bc87"/><stop offset="0.1667" stop-color="#6cbd81"/><stop offset="0.2083" stop-color="#72bc7a"/><stop offset="0.25" stop-color="#7bb972"/><stop offset="0.2917" stop-color="#84b56a"/><stop offset="0.3333" stop-color="#8eb161"/><stop offset="0.375" stop-color="#9cab55"/><stop offset="0.4167" stop-color="#aba548"/><stop offset="0.4583" stop-color="#b89f3c"/><stop offset="0.5" stop-color="#c69930"/><stop offset="0.5417" stop-color="#d39425"/><stop offset="0.5833" stop-color="#e08e19"/><stop offset="0.625" stop-color="#ec8a10"/><stop offset="0.6667" stop-color="#f2820a"/><stop offset="0.7083" stop-color="#f47609"/><stop offset="0.75" stop-color="#f56a08"/><stop offset="0.7917" stop-color="#f65d07"/><stop offset="0.8333" stop-color="#f75106"/><stop offset="0.875" stop-color="#f84505"/><stop offset="0.9167" stop-color="#fa3904"/><stop offset="0.9583" stop-color="#fb2d03"/><stop offset="1" stop-color="#fc2102"/></linearGradient>
<linearGradient id="g39"><stop offset="0" stop-color="#5cb69d"/><stop offset="0.04167" stop-color="#61b995"/><stop offset="0.08333" stop-color="#65bb8d"/><stop offset="0.125" stop-color="#69bc87"/><stop offset="0.1667" stop-color="#6cbd80"/><stop offset="0.2083" stop-color="#73bc79"/><stop offset="0.25" stop-color="#7cb871"/><stop offset="0.2917" stop-color="#85b569"/><stop offset="0.3333" stop-color="#8fb060"/><stop offset="0.375" stop-color="#9eaa53"/><stop offset="0.4167" stop-color="#aca447"/><stop offset="0.4583" stop-color="#ba9e3b"/><stop offset="0.5" stop-color="#c8992f"/><stop offset="0.5417" stop-color="#d59323"/><stop offset="0.5833" stop-color="#e28e18"/><stop offset="0.625" stop-color="#ed890e"/><stop offset="0.6667" stop-color="#f38009"/><stop offset="0.7083" stop-color="#f47309"/><stop offset="0.75" stop-color="#f56708"/><stop offset="0.7917" stop-color="#f65b07"/><stop offset="0.8333" stop-color="#f74f06"/><stop offset="0.875" stop-color="#f94205"/><stop offset="0.9167" stop-color="#fa3604"/><stop offset="0.9583" stop-color="#fb2a03"/><stop offset="1" stop-color="#fc1e02"/></linearGradient>
<linearGradient id="g40"><stop offset="0" stop-color="#5db69d"/><stop offset="0.04167" stop-color="#61b994"/><stop offset="0.08333" stop-color="#65bb8d"/><stop offset="0.125" stop-color="#69bc86"/><stop offset="0.1667" stop-color="#6dbd80"/><stop offset="0.2083" stop-color="#74bc78"/><stop offset="0.25" stop-color="#7db870"/><stop offset="0.2917" stop-color="#86b468"/><stop offset="0.3333" stop-color="#92af5e"/><stop offset="0.375" stop-color="#a0a951"/><stop offset="0.4167" stop-color="#afa344"/><stop offset="0.4583" stop-color="#bd9d38"/><stop offset="0.5" stop-color="#cb972c"/><stop offset="0.5417" stop-color="#d89220"/><stop offset="0.5833" stop-color="#e58d16"/><stop offset="0.625" stop-color="#f0880c"/><stop offset="0.6667" stop-color="#f37d09"/><stop offset="0.7083" stop-color="#f47008"/><stop offset="0.75" stop-color="#f56407"/><stop offset="0.7917" stop-color="#f75706"/><stop offset="0.8333" stop-color="#f84b06"/><stop offset="0.875" stop-color="#f93f05"/><stop offset="0.9167" stop-color="#fa3204"/><stop offset="0.9583" stop-color="#fb2603"/><stop offset="1" stop-color="#fc1a02"/></linearGradient>
<linearGradient id="g41"><stop offset="0" stop-color="#5db79c"/><stop offset="0.04167" stop-color="#62ba93"/><stop offset="0.08333" stop-color="#66bb8b"/><stop offset="0.125" stop-color="#6abc85"/><stop offset="0.1667" stop-color="#6dbe7e"/><stop offset="0.2083" stop-color="#76bb76"/><stop offset="0.25" stop-color="#7fb76e"/><stop offset="0.2917" stop-color="#88b366"/><stop offset="0.3333" stop-color="#95ae5b"/><stop offset="0.375" stop-color="#a4a74e"/><stop offset="0.4167" stop-color="#b3a141"/><stop offset="0.4583" stop-color="#c19c35"/><stop offset="0.5" stop-color="#cf9629"/><stop offset="0.5417" stop-color="#dd901c"/><stop offset="0.5833" stop-color="#e88b12"/><stop offset="0.625" stop-color="#f2850a"/><stop offset="0.6667" stop-color="#f37809"/><stop offset="0.7083" stop-color="#f56c08"/><stop offset="0.75" stop-color="#f65f07"/><stop offset="0.7917" stop-color="#f75306"/><stop offset="0.8333" stop-color="#f84605"/><stop offset="0.875" stop-color="#f93904"/><stop offset="0.9167" stop-color="#fb2d03"/><stop offset="0.9583" stop-color="#fc2002"/><stop offset="1" stop-color="#fd1502"/></linearGradient>
<linearGradient id="g42"><stop offset="0" stop-color="#5eb79b"/><stop offset="0.04167" stop-color="#62ba92"/><stop offset="0.08333" stop-color="#66bb8b"/><stop offset="0.125" stop-color="#6abd84"/><stop offset="0.1667" stop-color="#6ebe7d"/><stop offset="0.2083" stop-color="#77ba75"/><stop offset="0.25" stop-color="#80b66d"/><stop offset="0.2917" stop-color="#8ab265"/><stop offset="0.3333" stop-color="#98ad59"/><stop offset="0.375" stop-color="#a7a64b"/><stop offset="0.4167" stop-color="#b5a03f"/><stop offset="0.4583" stop-color="#c39a33"/><stop offset="0.5" stop-color="#d29426"/><stop offset="0.5417" stop-color="#df8f1a"/><stop offset="0.5833" stop-color="#eb8a10"/><stop offset="0.625" stop-color="#f2820a"/><stop offset="0.6667" stop-color="#f47509"/><stop offset="0.7083" stop-color="#f56808"/><stop offset="0.75" stop-color="#f65c07"/><stop offset="0.7917" stop-color="#f74f06"/><stop offset="0.8333" stop-color="#f94205"/><stop offset="0.875" stop-color="#fa3604"/><stop offset="0.9167" stop-color="#fb2903"/><stop offset="0.9583" stop-color="#fc1d02"/><stop offset="1" stop-color="#fd1101"/></linearGradient>
<linearGradient id="g43"><stop offset="0" stop-color="#5db79c"/><stop offset="0.04167" stop-color="#62ba93"/><stop offset="0.08333" stop-color="#66bb8c"/><stop offset="0.125" stop-color="#6abc85"/><stop offset="0.1667" stop-color="#6dbe7e"/><stop offset="0.2083" stop-color="#76bb76"/><stop offset="0.25" stop-color="#80b76e"/><stop offset="0.2917" stop-color="#89b365"/><stop offset="0.3333" stop-color="#97ad59"/><stop offset="0.375" stop-color="#a6a74c"/><stop offset="0.4167" stop-color="#b5a13f"/><stop offset="0.4583" stop-color="#c39b33"/><stop offset="0.5" stop-color="#d19527"/><stop offset="0.5417" stop-color="#df8f1b"/><stop offset="0.5833" stop-color="#eb8a10"/><stop offset="0.625" stop-color="#f2820a"/><stop offset="0.6667" stop-color="#f47509"/><stop offset="0.7083" stop-color="#f56808"/><stop offset="0.75" stop-color="#f65c07"/><stop offset="0.7917" stop-color="#f74f06"/><stop offset="0.8333" stop-color="#f94205"/><stop offset="0.875" stop-color="#fa3504"/><stop offset="0.9167" stop-color="#fb2803"/><stop offset="0.9583" stop-color="#fc1c02"/><stop offset="1" stop-color="#fd1101"/></linearGradient>
<linearGradient id="g44"><stop offset="0" stop-color="#5cb69e"/><stop offset="0.04167" stop-color="#60b995"/><stop offset="0.08333" stop-color="#65bb8d"/><stop offset="0.125" stop-color="#69bc86"/><stop offset="0.1667" stop-color="#6dbd80"/><stop offset="0.2083" stop-color="#74bb78"/><stop offset="0.25" stop-color="#7eb86f"/><stop offset="0.2917" stop-color="#87b467"/><stop offset="0.3333" stop-color="#94ae5c"/><stop offset="0.375" stop-color="#a3a84f"/><stop offset="0.4167" stop-color="#b2a242"/><stop offset="0.4583" stop-color="#c09c35"/><stop offset="0.5" stop-color="#cf9629"/><stop offset="0.5417" stop-color="#dd901c"/><stop offset="0.5833" stop-color="#e98b12"/><stop offset="0.625" stop-color="#f2840a"/><stop offset="0.6667" stop-color="#f47709"/><stop offset="0.7083" stop-color="#f56b08"/><stop offset="0.75" stop-color="#f65e07"/><stop offset="0.7917" stop-color="#f75106"/><stop offset="0.8333" stop-color="#f84405"/><stop offset="0.875" stop-color="#fa3704"/><stop offset="0.9167" stop-color="#fb2a03"/><stop offset="0.9583" stop-color="#fc1e02"/><stop offset="1" stop-color="#fd1201"/></linearGradient>
<linearGradient id="g45"><stop offset="0" stop-color="#5db69d"/><stop offset="0.04167" stop-color="#61b994"/><stop offset="0.08333" stop-color="#66bb8c"/><stop offset="0.125" stop-color="#69bc85"/><stop offset="0.1667" stop-color="#6dbe7e"/><stop offset="0.2083" stop-color="#76bb76"/><stop offset="0.25" stop-color="#7fb76e"/><stop offset="0.2917" stop-color="#89b365"/><stop offset="0.3333" stop-color="#97ad59"/><stop offset="0.375" stop-color="#a7a64c"/><stop offset="0.4167" stop-color="#b6a03f"/><stop offset="0.4583" stop-color="#c49a32"/><stop offset="0.5" stop-color="#d39425"/><stop offset="0.5417" stop-color="#e08e19"/><stop offset="0.5833" stop-color="#ec890f"/><stop offset="0.625" stop-color="#f38009"/><stop offset="0.6667" stop-color="#f47309"/><stop offset="0.7083" stop-color="#f56608"/><stop offset="0.75" stop-color="#f65907"/><stop offset="0.7917" stop-color="#f84c06"/><stop offset="0.8333" stop-color="#f93f05"/><stop offset="0.875" stop-color="#fa3204"/><stop offset="0.9167" stop-color="#fb2503"/><stop offset="0.9583" stop-color="#fd1902"/><stop offset="1" stop-color="#fe0d01"/></linearGradient>
<linearGradient id="g46"><stop offset="0" stop-color="#5db69d"/><stop offset="0.04167" stop-color="#61b994"/><stop offset="0.08333" stop-color="#66bb8c"/><stop offset="0.125" stop-color="#6abc85"/><stop offset="0.1667" stop-color="#6ebe7e"/><stop offset="0.2083" stop-color="#77ba75"/><stop offset="0.25" stop-color="#80b66d"/><stop offset="0.2917" stop-color="#8ab264"/><stop offset="0.3333" stop-color="#99ac57"/><stop offset="0.375" stop-color="#a9a54a"/><stop offset="0.4167" stop-color="#b89f3d"/><stop offset="0.4583" stop-color="#c69930"/><stop offset="0.5" stop-color="#d59323"/><stop offset="0.5417" stop-color="#e28d18"/><stop offset="0.5833" stop-color="#ef880d"/><stop offset="0.625" stop-color="#f37e09"/><stop offset="0.6667" stop-color="#f47008"/><stop offset="0.7083" stop-color="#f56307"/><stop offset="0.75" stop-color="#f75606"/><stop offset="0.7917" stop-color="#f84905"/><stop offset="0.8333" stop-color="#f93c04"/><stop offset="0.875" stop-color="#fb2e03"/><stop offset="0.9167" stop-color="#fc2102"/><stop offset="0.9583" stop-color="#fd1602"/><stop offset="1" stop-color="#fe0a01"/></linearGradient>
<linearGradient id="g47"><stop offset="0" stop-color="#5db69d"/><stop offset="0.04167" stop-color="#61b994"/><stop offset="0.08333" stop-color="#66bb8c"/><stop offset="0.125" stop-color="#6abc85"/><stop offset="0.1667" stop-color="#6ebe7e"/><stop offset="0.2083" stop-color="#77ba75"/><stop offset="0.25" stop-color="#81b66c"/><stop offset="0.2917" stop-color="#8bb264"/><stop offset="0.3333" stop-color="#9aab56"/><stop offset="0.375" stop-color="#aaa549"/><stop offset="0.4167" stop-color="#b99f3c"/><stop offset="0.4583" stop-color="#c8992f"/><stop offset="0.5" stop-color="#d79222"/><stop offset="0.5417" stop-color="#e48d16"/><stop offset="0.5833" stop-color="#f0880c"/><stop offset="0.625" stop-color="#f37c09"/><stop offset="0.6667" stop-color="#f46e08"/><stop offset="0.7083" stop-color="#f66107"/><stop offset="0.75" stop-color="#f75406"/><stop offset="0.7917" stop-color="#f84605"/><stop offset="0.8333" stop-color="#f93904"/><stop offset="0.875" stop-color="#fb2c03"/><stop offset="0.9167" stop-color="#fc1f02"/><stop offset="0.9583" stop-color="#fd1301"/><stop offset="1" stop-color="#fe0701"/></linearGradient>
<linearGradient id="g48"><stop offset="0" stop-color="#5db79c"/><stop offset="0.04167" stop-color="#62ba93"/><stop offset="0.08333" stop-color="#66bb8b"/><stop offset="0.125" stop-color="#6abd84"/><stop offset="0.1667" stop-color="#6fbe7d"/><stop offset="0.2083" stop-color="#79ba74"/><stop offset="0.25" stop-color="#83b56b"/><stop offset="0.2917" stop-color="#8db162"/><stop offset="0.3333" stop-color="#9daa54"/><stop offset="0.375" stop-color="#ada446"/><stop offset="0.4167" stop-color="#bc9e39"/><stop offset="0.4583" stop-color="#cb972c"/><stop offset="0.5" stop-color="#da911f"/><stop offset="0.5417" stop-color="#e78c14"/><stop offset="0.5833" stop-color="#f2860a"/><stop offset="0.625" stop-color="#f37809"/><stop offset="0.6667" stop-color="#f56b08"/><stop offset="0.7083" stop-color="#f65d07"/><stop offset="0.75" stop-color="#f75006"/><stop offset="0.7917" stop-color="#f94205"/><stop offset="0.8333" stop-color="#fa3504"/><stop offset="0.875" stop-color="#fb2703"/><stop offset="0.9167" stop-color="#fc1b02"/><stop offset="0.9583" stop-color="#fe0f01"/><stop offset="1" stop-color="#ff0300"/></linearGradient>
<linearGradient id="g49"><stop offset="0" stop-color="#5db79c"/><stop offset="0.04167" stop-color="#62ba92"/><stop offset="0.08333" stop-color="#66bb8a"/><stop offset="0.125" stop-color="#6abd83"/><stop offset="0.1667" stop-color="#6fbd7c"/><stop offset="0.2083" stop-color="#79b973"/><stop offset="0.25" stop-color="#83b56a"/><stop offset="0.2917" stop-color="#8fb060"/><stop offset="0.3333" stop-color="#9faa52"/><stop offset="0.375" stop-color="#afa344"/><stop offset="0.4167" stop-color="#be9d37"/><stop offset="0.4583" stop-color="#cd962a"/><stop offset="0.5" stop-color="#dc901d"/><stop offset="0.5417" stop-color="#e98b12"/><stop offset="0.5833" stop-color="#f2830a"/><stop offset="0.625" stop-color="#f47609"/><stop offset="0.6667" stop-color="#f56808"/><stop offset="0.7083" stop-color="#f65a07"/><stop offset="0.75" stop-color="#f84d06"/><stop offset="0.7917" stop-color="#f93f05"/><stop offset="0.8333" stop-color="#fa3104"/><stop offset="0.875" stop-color="#fc2403"/><stop offset="0.9167" stop-color="#fd1702"/><stop offset="0.9583" stop-color="#fe0b01"/><stop offset="1" stop-color="#fe0000"/></linearGradient>
<linearGradient id="g50"><stop offset="0" stop-color="#5db79c"/><stop offset="0.04167" stop-color="#62ba92"/><stop offset="0.08333" stop-color="#67bb8a"/><stop offset="0.125" stop-color="#6bbd83"/><stop offset="0.1667" stop-color="#70bd7b"/><stop offset="0.2083" stop-color="#7ab973"/><stop offset="0.25" stop-color="#84b56a"/><stop offset="0.2917" stop-color="#90b05f"/><stop offset="0.3333" stop-color="#a1a951"/><stop offset="0.375" stop-color="#b1a243"/><stop offset="0.4167" stop-color="#c09c36"/><stop offset="0.4583" stop-color="#cf9628"/><stop offset="0.5" stop-color="#de8f1b"/><stop offset="0.5417" stop-color="#eb8a10"/><stop offset="0.5833" stop-color="#f3810a"/><stop offset="0.625" stop-color="#f47309"/><stop offset="0.6667" stop-color="#f56508"/><stop offset="0.7083" stop-color="#f75806"/><stop offset="0.75" stop-color="#f84a05"/><stop offset="0.7917" stop-color="#f93c04"/><stop offset="0.8333" stop-color="#fb2e03"/><stop offset="0.875" stop-color="#fc2102"/><stop offset="0.9167" stop-color="#fd1402"/><stop offset="0.9583" stop-color="#fe0801"/><stop offset="1" stop-color="#fc0002"/></linearGradient>
<linearGradient id="g51"><stop offset="0" stop-color="#5db79c"/><stop offset="0.04167" stop-color="#62ba92"/><stop offset="0.08333" stop-color="#67bb8a"/><stop offset="0.125" stop-color="#6bbd83"/><stop offset="0.1667" stop-color="#70bd7b"/><stop offset="0.2083" stop-color="#7bb972"/><stop offset="0.25" stop-color="#85b469"/><stop offset="0.2917" stop-color="#92af5e"/><stop offset="0.3333" stop-color="#a2a850"/><stop offset="0.375" stop-color="#b2a242"/><stop offset="0.4167" stop-color="#c19b34"/><stop offset="0.4583" stop-color="#d19527"/><stop offset="0.5" stop-color="#e08f1a"/><stop offset="0.5417" stop-color="#ed890f"/><stop offset="0.5833" stop-color="#f37f09"/><stop offset="0.625" stop-color="#f47108"/><stop offset="0.6667" stop-color="#f56307"/><stop offset="0.7083" stop-color="#f75506"/><stop offset="0.75" stop-color="#f84705"/><stop offset="0.7917" stop-color="#f93904"/><stop offset="0.8333" stop-color="#fb2c03"/><stop offset="0.875" stop-color="#fc1e02"/><stop offset="0.9167" stop-color="#fd1201"/><stop offset="0.9583" stop-color="#fe0500"/><stop offset="1" stop-color="#fa0003"/></linearGradient>
<linearGradient id="g52"><stop offset="0" stop-color="#5db79b"/><stop offset="0.04167" stop-color="#62ba92"/><stop offset="0.08333" stop-color="#67bb8a"/><stop offset="0.125" stop-color="#6bbd82"/><stop offset="0.1667" stop-color="#71bd7a"/><stop offset="0.2083" stop-color="#7bb871"/><stop offset="0.25" stop-color="#86b468"/><stop offset="0.2917" stop-color="#93af5d"/><stop offset="0.3333" stop-color="#a4a84e"/><stop offset="0.375" stop-color="#b4a140"/><stop offset="0.4167" stop-color="#c39a33"/><stop offset="0.4583" stop-color="#d39425"/><stop offset="0.5" stop-color="#e28e18"/><stop offset="0.5417" stop-color="#ef880d"/><stop offset="0.5833" stop-color="#f37d09"/><stop offset="0.625" stop-color="#f46e08"/><stop offset="0.6667" stop-color="#f66007"/><stop offset="0.7083" stop-color="#f75206"/><stop offset="0.75" stop-color="#f84405"/><stop offset="0.7917" stop-color="#fa3604"/><stop offset="0.8333" stop-color="#fb2803"/><stop offset="0.875" stop-color="#fc1b02"/><stop offset="0.9167" stop-color="#fe0e01"/><stop offset="0.9583" stop-color="#ff0200"/><stop offset="1" stop-color="#f80005"/></linearGradient>
<linearGradient id="g53"><stop offset="0" stop-color="#5eb79b"/><stop offset="0.04167" stop-color="#63ba91"/><stop offset="0.08333" stop-color="#67bc89"/><stop offset="0.125" stop-color="#6bbd82"/><stop offset="0.1667" stop-color="#72bc7a"/><stop offset="0.2083" stop-color="#7cb870"/><stop offset="0.25" stop-color="#87b467"/><stop offset="0.2917" stop-color="#95ae5b"/><stop offset="0.3333" stop-color="#a6a74c"/><stop offset="0.375" stop-color="#b6a03e"/><stop offset="0.4167" stop-color="#c69930"/><stop offset="0.4583" stop-color="#d69322"/><stop offset="0.5" stop-color="#e48d16"/><stop offset="0.5417" stop-color="#f1870b"/><stop offset="0.5833" stop-color="#f37909"/><stop offset="0.625" stop-color="#f56b08"/><stop offset="0.6667" stop-color="#f65d07"/><stop offset="0.7083" stop-color="#f74f06"/><stop offset="0.75" stop-color="#f94105"/><stop offset="0.7917" stop-color="#fa3204"/><stop offset="0.8333" stop-color="#fc2403"/><stop offset="0.875" stop-color="#fd1702"/><stop offset="0.9167" stop-color="#fe0a01"/><stop offset="0.9583" stop-color="#fe0001"/><stop offset="1" stop-color="#f50007"/></linearGradient>
<linearGradient id="g54"><stop offset="0" stop-color="#5eb79b"/><stop offset="0.04167" stop-color="#63ba91"/><stop offset="0.08333" stop-color="#67bc89"/><stop offset="0.125" stop-color="#6bbd82"/><stop offset="0.1667" stop-color="#72bc79"/><stop offset="0.2083" stop-color="#7db870"/><stop offset="0.25" stop-color="#88b367"/><stop offset="0.2917" stop-color="#97ad5a"/><stop offset="0.3333" stop-color="#a8a64b"/><stop offset="0.375" stop-color="#b89f3d"/><stop offset="0.4167" stop-color="#c8992f"/><stop offset="0.4583" stop-color="#d89221"/><stop offset="0.5" stop-color="#e68c15"/><stop offset="0.5417" stop-color="#f2860a"/><stop offset="0.5833" stop-color="#f37709"/><stop offset="0.625" stop-color="#f56908"/><stop offset="0.6667" stop-color="#f65b07"/><stop offset="0.7083" stop-color="#f84c06"/><stop offset="0.75" stop-color="#f93e05"/><stop offset="0.7917" stop-color="#fa3004"/><stop offset="0.8333" stop-color="#fc2102"/><stop offset="0.875" stop-color="#fd1402"/><stop offset="0.9167" stop-color="#fe0801"/><stop offset="0.9583" stop-color="#fc0003"/><stop offset="1" stop-color="#f30009"/></linearGradient>
<linearGradient id="g55"><stop offset="0" stop-color="#5db79b"/><stop offset="0.04167" stop-color="#63ba91"/><stop offset="0.08333" stop-color="#67bc89"/><stop offset="0.125" stop-color="#6bbd82"/><stop offset="0.1667" stop-color="#72bc79"/><stop offset="0.2083" stop-color="#7db870"/><stop offset="0.25" stop-color="#88b367"/><stop offset="0.2917" stop-color="#97ad59"/><stop offset="0.3333" stop-color="#a8a64a"/><stop offset="0.375" stop-color="#b89f3c"/><stop offset="0.4167" stop-color="#c8982e"/><stop offset="0.4583" stop-color="#d99220"/><stop offset="0.5" stop-color="#e78c14"/><stop offset="0.5417" stop-color="#f2850a"/><stop offset="0.5833" stop-color="#f47609"/><stop offset="0.625" stop-color="#f56808"/><stop offset="0.6667" stop-color="#f65907"/><stop offset="0.7083" stop-color="#f84b06"/><stop offset="0.75" stop-color="#f93c04"/><stop offset="0.7917" stop-color="#fb2e03"/><stop offset="0.8333" stop-color="#fc1f02"/><stop offset="0.875" stop-color="#fd1201"/><stop offset="0.9167" stop-color="#fe0600"/><stop offset="0.9583" stop-color="#fa0004"/><stop offset="1" stop-color="#f2000a"/></linearGradient>
<linearGradient id="g56"><stop offset="0" stop-color="#5db79c"/><stop offset="0.04167" stop-color="#62ba92"/><stop offset="0.08333" stop-color="#67bb8a"/><stop offset="0.125" stop-color="#6bbd82"/><stop offset="0.1667" stop-color="#72bc7a"/><stop offset="0.2083" stop-color="#7db870"/><stop offset="0.25" stop-color="#88b367"/><stop offset="0.2917" stop-color="#97ad59"/><stop offset="0.3333" stop-color="#a8a64a"/><stop offset="0.375" stop-color="#b99f3c"/><stop offset="0.4167" stop-color="#c9982e"/><stop offset="0.4583" stop-color="#d9911f"/><stop offset="0.5" stop-color="#e88b13"/><stop offset="0.5417" stop-color="#f2840a"/><stop offset="0.5833" stop-color="#f47509"/><stop offset="0.625" stop-color="#f56608"/><stop offset="0.6667" stop-color="#f75807"/><stop offset="0.7083" stop-color="#f84905"/><stop offset="0.75" stop-color="#f93a04"/><stop offset="0.7917" stop-color="#fb2c03"/><stop offset="0.8333" stop-color="#fc1e02"/><stop offset="0.875" stop-color="#fd1101"/><stop offset="0.9167" stop-color="#ff0400"/><stop offset="0.9583" stop-color="#f90005"/><stop offset="1" stop-color="#f0000b"/></linearGradient>
<linearGradient id="g57"><stop offset="0" stop-color="#5db69c"/><stop offset="0.04167" stop-color="#62ba92"/><stop offset="0.08333" stop-color="#67bb8a"/><stop offset="0.125" stop-color="#6bbd82"/><stop offset="0.1667" stop-color="#72bc7a"/><stop offset="0.2083" stop-color="#7db870"/><stop offset="0.25" stop-color="#88b367"/><stop offset="0.2917" stop-color="#97ad59"/><stop offset="0.3333" stop-color="#a9a64a"/><stop offset="0.375" stop-color="#b99f3b"/><stop offset="0.4167" stop-color="#ca982d"/><stop offset="0.4583" stop-color="#da911f"/><stop offset="0.5" stop-color="#e88b12"/><stop offset="0.5417" stop-color="#f2830a"/><stop offset="0.5833" stop-color="#f47409"/><stop offset="0.625" stop-color="#f56507"/><stop offset="0.6667" stop-color="#f75606"/><stop offset="0.7083" stop-color="#f84805"/><stop offset="0.75" stop-color="#fa3904"/><stop offset="0.7917" stop-color="#fb2a03"/><stop offset="0.8333" stop-color="#fc1c02"/><stop offset="0.875" stop-color="#fe0f01"/><stop offset="0.9167" stop-color="#ff0100"/><stop offset="0.9583" stop-color="#f70006"/><stop offset="1" stop-color="#ef000c"/></linearGradient>
<linearGradient id="g58"><stop offset="0" stop-color="#5db69d"/><stop offset="0.04167" stop-color="#62ba92"/><stop offset="0.08333" stop-color="#67bb8a"/><stop offset="0.125" stop-color="#6bbd82"/><stop offset="0.1667" stop-color="#72bc79"/><stop offset="0.2083" stop-color="#7db870"/><stop offset="0.25" stop-color="#88b366"/><stop offset="0.2917" stop-color="#98ac58"/><stop offset="0.3333" stop-color="#aaa549"/><stop offset="0.375" stop-color="#bb9e3a"/><stop offset="0.4167" stop-color="#cb972c"/><stop offset="0.4583" stop-color="#dc901d"/><stop offset="0.5" stop-color="#ea8a11"/><stop offset="0.5417" stop-color="#f3810a"/><stop offset="0.5833" stop-color="#f47208"/><stop offset="0.625" stop-color="#f56307"/><stop offset="0.6667" stop-color="#f75406"/><stop offset="0.7083" stop-color="#f84505"/><stop offset="0.75" stop-color="#fa3604"/><stop offset="0.7917" stop-color="#fb2703"/><stop offset="0.8333" stop-color="#fd1902"/><stop offset="0.875" stop-color="#fe0c01"/><stop offset="0.9167" stop-color="#fe0001"/><stop offset="0.9583" stop-color="#f50007"/><stop offset="1" stop-color="#ec000d"/></linearGradient>
<linearGradient id="g59"><stop offset="0" stop-color="#5db69d"/><stop offset="0.04167" stop-color="#62ba93"/><stop offset="0.08333" stop-color="#67bb8a"/><stop offset="0.125" stop-color="#6bbd82"/><stop offset="0.1667" stop-color="#72bc79"/><stop offset="0.2083" stop-color="#7db870"/><stop offset="0.25" stop-color="#89b366"/><stop offset="0.2917" stop-color="#99ac58"/><stop offset="0.3333" stop-color="#aba548"/><stop offset="0.375" stop-color="#bc9e39"/><stop offset="0.4167" stop-color="#cc972b"/><stop offset="0.4583" stop-color="#dd901c"/><stop offset="0.5" stop-color="#eb8a10"/><stop offset="0.5417" stop-color="#f37f09"/><stop offset="0.5833" stop-color="#f47008"/><stop offset="0.625" stop-color="#f66107"/><stop offset="0.6667" stop-color="#f75206"/><stop offset="0.7083" stop-color="#f94305"/><stop offset="0.75" stop-color="#fa3404"/><stop offset="0.7917" stop-color="#fb2503"/><stop offset="0.8333" stop-color="#fd1702"/><stop offset="0.875" stop-color="#fe0901"/><stop offset="0.9167" stop-color="#fc0002"/><stop offset="0.9583" stop-color="#f30008"/><stop offset="1" stop-color="#eb000f"/></linearGradient>
<linearGradient id="g60"><stop offset="0" stop-color="#5cb69e"/><stop offset="0.04167" stop-color="#61ba93"/><stop offset="0.08333" stop-color="#66bb8a"/><stop offset="0.125" stop-color="#6bbd82"/><stop offset="0.1667" stop-color="#72bc7a"/><stop offset="0.2083" stop-color="#7db870"/><stop offset="0.25" stop-color="#88b366"/><stop offset="0.2917" stop-color="#99ac58"/><stop offset="0.3333" stop-color="#aba548"/><stop offset="0.375" stop-color="#bc9e39"/><stop offset="0.4167" stop-color="#cd972a"/><stop offset="0.4583" stop-color="#de901c"/><stop offset="0.5" stop-color="#ec8a10"/><stop offset="0.5417" stop-color="#f37f09"/><stop offset="0.5833" stop-color="#f46f08"/><stop offset="0.625" stop-color="#f66007"/><stop offset="0.6667" stop-color="#f75106"/><stop offset="0.7083" stop-color="#f94205"/><stop offset="0.75" stop-color="#fa3204"/><stop offset="0.7917" stop-color="#fc2303"/><stop offset="0.8333" stop-color="#fd1502"/><stop offset="0.875" stop-color="#fe0801"/><stop offset="0.9167" stop-color="#fb0003"/><stop offset="0.9583" stop-color="#f20009"/><stop offset="1" stop-color="#e90010"/></linearGradient>
<linearGradient id="g61"><stop offset="0" stop-color="#5cb69f"/><stop offset="0.04167" stop-color="#61b994"/><stop offset="0.08333" stop-color="#66bb8b"/><stop offset="0.125" stop-color="#6bbd83"/><stop offset="0.1667" stop-color="#71bd7a"/><stop offset="0.2083" stop-color="#7db870"/><stop offset="0.25" stop-color="#88b366"/><stop offset="0.2917" stop-color="#98ac58"/><stop offset="0.3333" stop-color="#aba548"/><stop offset="0.375" stop-color="#bc9e39"/><stop offset="0.4167" stop-color="#cd962a"/><stop offset="0.4583" stop-color="#de8f1c"/><stop offset="0.5" stop-color="#ec890f"/><stop offset="0.5417" stop-color="#f37e09"/><stop offset="0.5833" stop-color="#f46f08"/><stop offset="0.625" stop-color="#f65f07"/><stop offset="0.6667" stop-color="#f75006"/><stop offset="0.7083" stop-color="#f94105"/><stop offset="0.75" stop-color="#fa3104"/><stop offset="0.7917" stop-color="#fc2202"/><stop offset="0.8333" stop-color="#fd1401"/><stop offset="0.875" stop-color="#fe0600"/><stop offset="0.9167" stop-color="#fa0004"/><stop offset="0.9583" stop-color="#f1000a"/><stop offset="1" stop-color="#e80011"/></linearGradient>
<linearGradient id="g62"><stop offset="0" stop-color="#5bb59f"/><stop offset="0.04167" stop-color="#61b995"/><stop offset="0.08333" stop-color="#66bb8b"/><stop offset="0.125" stop-color="#6bbd83"/><stop offset="0.1667" stop-color="#71bd7a"/><stop offset="0.2083" stop-color="#7db870"/><stop offset="0.25" stop-color="#88b366"/><stop offset="0.2917" stop-color="#99ac58"/><stop offset="0.3333" stop-color="#aba548"/><stop offset="0.375" stop-color="#bc9d39"/><stop offset="0.4167" stop-color="#ce962a"/><stop offset="0.4583" stop-color="#df8f1b"/><stop offset="0.5" stop-color="#ed890e"/><stop offset="0.5417" stop-color="#f37d09"/><stop offset="0.5833" stop-color="#f46d08"/><stop offset="0.625" stop-color="#f65e07"/><stop offset="0.6667" stop-color="#f74e06"/><stop offset="0.7083" stop-color="#f93f05"/><stop offset="0.75" stop-color="#fa2f03"/><stop offset="0.7917" stop-color="#fc2002"/><stop offset="0.8333" stop-color="#fd1201"/><stop offset="0.875" stop-color="#ff0400"/><stop offset="0.9167" stop-color="#f90005"/><stop offset="0.9583" stop-color="#ef000b"/><stop offset="1" stop-color="#e60012"/></linearGradient>
<linearGradient id="g63"><stop offset="0" stop-color="#5bb59f"/><stop offset="0.04167" stop-color="#61b994"/><stop offset="0.08333" stop-color="#66bb8b"/><stop offset="0.125" stop-color="#6bbd83"/><stop offset="0.1667" stop-color="#72bc7a"/><stop offset="0.2083" stop-color="#7db870"/><stop offset="0.25" stop-color="#89b365"/><stop offset="0.2917" stop-color="#9aac56"/><stop offset="0.3333" stop-color="#ada446"/><stop offset="0.375" stop-color="#be9d37"/><stop offset="0.4167" stop-color="#d09528"/><stop offset="0.4583" stop-color="#e18e19"/><stop offset="0.5" stop-color="#ef880d"/><stop offset="0.5417" stop-color="#f37b09"/><stop offset="0.5833" stop-color="#f56b08"/><stop offset="0.625" stop-color="#f65b07"/><stop offset="0.6667" stop-color="#f84b06"/><stop offset="0.7083" stop-color="#f93c04"/><stop offset="0.75" stop-color="#fb2c03"/><stop offset="0.7917" stop-color="#fc1d02"/><stop offset="0.8333" stop-color="#fe0f01"/><stop offset="0.875" stop-color="#ff0100"/><stop offset="0.9167" stop-color="#f60006"/><stop offset="0.9583" stop-color="#ed000d"/><stop offset="1" stop-color="#e40014"/></linearGradient>
<linearGradient id="g64"><stop offset="0" stop-color="#5bb59f"/><stop offset="0.04167" stop-color="#61b995"/><stop offset="0.08333" stop-color="#66bb8b"/><stop offset="0.125" stop-color="#6bbd83"/><stop offset="0.1667" stop-color="#72bc7a"/><stop offset="0.2083" stop-color="#7eb76f"/><stop offset="0.25" stop-color="#89b365"/><stop offset="0.2917" stop-color="#9bab56"/><stop offset="0.3333" stop-color="#aea345"/><stop offset="0.375" stop-color="#c09c36"/><stop offset="0.4167" stop-color="#d19527"/><stop offset="0.4583" stop-color="#e28e18"/><stop offset="0.5" stop-color="#f1880b"/><stop offset="0.5417" stop-color="#f37909"/><stop offset="0.5833" stop-color="#f56908"/><stop offset="0.625" stop-color="#f65907"/><stop offset="0.6667" stop-color="#f84905"/><stop offset="0.7083" stop-color="#fa3904"/><stop offset="0.75" stop-color="#fb2903"/><stop offset="0.7917" stop-color="#fc1a02"/><stop offset="0.8333" stop-color="#fe0c01"/><stop offset="0.875" stop-color="#fe0001"/><stop offset="0.9167" stop-color="#f40008"/><stop offset="0.9583" stop-color="#eb000f"/><stop offset="1" stop-color="#e10015"/></linearGradient>
<linearGradient id="g65"><stop offset="0" stop-color="#5bb5a0"/><stop offset="0.04167" stop-color="#60b995"/><stop offset="0.08333" stop-color="#66bb8b"/><stop offset="0.125" stop-color="#6bbd83"/><stop offset="0.1667" stop-color="#72bd7a"/><stop offset="0.2083" stop-color="#7db870"/><stop offset="0.25" stop-color="#89b365"/><stop offset="0.2917" stop-color="#9bab56"/><stop offset="0.3333" stop-color="#aea345"/><stop offset="0.375" stop-color="#c09c36"/><stop offset="0.4167" stop-color="#d29426"/><stop offset="0.4583" stop-color="#e38d17"/><stop offset="0.5" stop-color="#f1870b"/><stop offset="0.5417" stop-color="#f37809"/><stop offset="0.5833" stop-color="#f56808"/><stop offset="0.625" stop-color="#f75806"/><stop offset="0.6667" stop-color="#f84705"/><stop offset="0.7083" stop-color="#fa3704"/><stop offset="0.75" stop-color="#fb2703"/><stop offset="0.7917" stop-color="#fd1802"/><stop offset="0.8333" stop-color="#fe0a01"/><stop offset="0.875" stop-color="#fc0002"/><stop offset="0.9167" stop-color="#f30009"/><stop offset="0.9583" stop-color="#e90010"/><stop offset="1" stop-color="#e00017"/></linearGradient>
<linearGradient id="g66"><stop offset="0" stop-color="#5ab5a1"/><stop offset="0.04167" stop-color="#60b996"/><stop offset="0.08333" stop-color="#66bb8c"/><stop offset="0.125" stop-color="#6abd83"/><stop offset="0.1667" stop-color="#71bd7a"/><stop offset="0.2083" stop-color="#7db870"/><stop offset="0.25" stop-color="#89b366"/><stop offset="0.2917" stop-color="#9bab56"/><stop offset="0.3333" stop-color="#aea345"/><stop offset="0.375" stop-color="#c09c36"/><stop offset="0.4167" stop-color="#d29426"/><stop offset="0.4583" stop-color="#e38d17"/><stop offset="0.5" stop-color="#f2870a"/><stop offset="0.5417" stop-color="#f47709"/><stop offset="0.5833" stop-color="#f56708"/><stop offset="0.625" stop-color="#f75706"/><stop offset="0.6667" stop-color="#f84605"/><stop offset="0.7083" stop-color="#fa3604"/><stop offset="0.75" stop-color="#fb2603"/><stop offset="0.7917" stop-color="#fd1702"/><stop offset="0.8333" stop-color="#fe0901"/><stop offset="0.875" stop-color="#fb0003"/><stop offset="0.9167" stop-color="#f2000a"/><stop offset="0.9583" stop-color="#e80011"/><stop offset="1" stop-color="#df0018"/></linearGradient>
<linearGradient id="g67"><stop offset="0" stop-color="#5ab4a2"/><stop offset="0.04167" stop-color="#5fb897"/><stop offset="0.08333" stop-color="#65bb8d"/><stop offset="0.125" stop-color="#6abd84"/><stop offset="0.1667" stop-color="#70bd7b"/><stop offset="0.2083" stop-color="#7cb871"/><stop offset="0.25" stop-color="#88b366"/><stop offset="0.2917" stop-color="#9aac57"/><stop offset="0.3333" stop-color="#ada446"/><stop offset="0.375" stop-color="#bf9c36"/><stop offset="0.4167" stop-color="#d19526"/><stop offset="0.4583" stop-color="#e28d18"/><stop offset="0.5" stop-color="#f1870a"/><stop offset="0.5417" stop-color="#f47709"/><stop offset="0.5833" stop-color="#f56708"/><stop offset="0.625" stop-color="#f75606"/><stop offset="0.6667" stop-color="#f84605"/><stop offset="0.7083" stop-color="#fa3604"/><stop offset="0.75" stop-color="#fb2503"/><stop offset="0.7917" stop-color="#fd1602"/><stop offset="0.8333" stop-color="#fe0801"/><stop offset="0.875" stop-color="#fa0003"/><stop offset="0.9167" stop-color="#f1000a"/><stop offset="0.9583" stop-color="#e70011"/><stop offset="1" stop-color="#de0018"/></linearGradient>
<linearGradient id="g68"><stop offset="0" stop-color="#59b4a3"/><stop offset="0.04167" stop-color="#5fb898"/><stop offset="0.08333" stop-color="#65bb8d"/><stop offset="0.125" stop-color="#6abd84"/><stop offset="0.1667" stop-color="#70bd7b"/><stop offset="0.2083" stop-color="#7cb871"/><stop offset="0.25" stop-color="#88b366"/><stop offset="0.2917" stop-color="#9aac57"/><stop offset="0.3333" stop-color="#ada446"/><stop offset="0.375" stop-color="#c09c36"/><stop offset="0.4167" stop-color="#d29426"/><stop offset="0.4583" stop-color="#e38d17"/><stop offset="0.5" stop-color="#f2860a"/><stop offset="0.5417" stop-color="#f47609"/><stop offset="0.5833" stop-color="#f56508"/><stop offset="0.625" stop-color="#f75506"/><stop offset="0.6667" stop-color="#f84405"/><stop offset="0.7083" stop-color="#fa3404"/><stop offset="0.75" stop-color="#fc2303"/><stop offset="0.7917" stop-color="#fd1401"/><stop offset="0.8333" stop-color="#fe0500"/><stop offset="0.875" stop-color="#f90004"/><stop offset="0.9167" stop-color="#ef000c"/><stop offset="0.9583" stop-color="#e50013"/><stop offset="1" stop-color="#dc001a"/></linearGradient>
<linearGradient id="g69"><stop offset="0" stop-color="#59b4a3"/><stop offset="0.04167" stop-color="#5fb898"/><stop offset="0.08333" stop-color="#65bb8d"/><stop offset="0.125" stop-color="#6abd84"/><stop offset="0.1667" stop-color="#70bd7b"/><stop offset="0.2083" stop-color="#7cb870"/><stop offset="0.25" stop-color="#89b366"/><stop offset="0.2917" stop-color="#9bab56"/><stop offset="0.3333" stop-color="#afa345"/><stop offset="0.375" stop-color="#c19b34"/><stop offset="0.4167" stop-color="#d49424"/><stop offset="0.4583" stop-color="#e58c15"/><stop offset="0.5" stop-color="#f2850a"/><stop offset="0.5417" stop-color="#f47409"/><stop offset="0.5833" stop-color="#f56307"/><stop offset="0.625" stop-color="#f75206"/><stop offset="0.6667" stop-color="#f94205"/><stop offset="0.7083" stop-color="#fa3104"/><stop offset="0.75" stop-color="#fc2002"/><stop offset="0.7917" stop-color="#fd1101"/><stop offset="0.8333" stop-color="#ff0200"/><stop offset="0.875" stop-color="#f70006"/><stop offset="0.9167" stop-color="#ed000d"/><stop offset="0.9583" stop-color="#e30014"/><stop offset="1" stop-color="#d9001b"/></linearGradient>
<linearGradient id="g70"><stop offset="0" stop-color="#59b3a4"/><stop offset="0.04167" stop-color="#5fb898"/><stop offset="0.08333" stop-color="#65bb8e"/><stop offset="0.125" stop-color="#6abc85"/><stop offset="0.1667" stop-color="#70bd7b"/><stop offset="0.2083" stop-color="#7cb870"/><stop offset="0.25" stop-color="#89b366"/><stop offset="0.2917" stop-color="#9cab55"/><stop offset="0.3333" stop-color="#afa344"/><stop offset="0.375" stop-color="#c29b34"/><stop offset="0.4167" stop-color="#d59323"/><stop offset="0.4583" stop-color="#e68c15"/><stop offset="0.5" stop-color="#f2830a"/><stop offset="0.5417" stop-color="#f47208"/><stop offset="0.5833" stop-color="#f66107"/><stop offset="0.625" stop-color="#f75106"/><stop offset="0.6667" stop-color="#f94005"/><stop offset="0.7083" stop-color="#fb2f03"/><stop offset="0.75" stop-color="#fc1e02"/><stop offset="0.7917" stop-color="#fe0f01"/><stop offset="0.8333" stop-color="#ff0000"/><stop offset="0.875" stop-color="#f50007"/><stop offset="0.9167" stop-color="#eb000e"/><stop offset="0.9583" stop-color="#e10016"/><stop offset="1" stop-color="#d7001d"/></linearGradient>
<linearGradient id="g71"><stop offset="0" stop-color="#59b3a5"/><stop offset="0.04167" stop-color="#5eb899"/><stop offset="0.08333" stop-color="#65bb8e"/><stop offset="0.125" stop-color="#6abc85"/><stop offset="0.1667" stop-color="#70bd7c"/><stop offset="0.2083" stop-color="#7cb871"/><stop offset="0.25" stop-color="#89b366"/><stop offset="0.2917" stop-color="#9cab55"/><stop offset="0.3333" stop-color="#b0a344"/><stop offset="0.375" stop-color="#c39b33"/><stop offset="0.4167" stop-color="#d69323"/><stop offset="0.4583" stop-color="#e78c14"/><stop offset="0.5" stop-color="#f2820a"/><stop offset="0.5417" stop-color="#f47108"/><stop offset="0.5833" stop-color="#f66007"/><stop offset="0.625" stop-color="#f74f06"/><stop offset="0.6667" stop-color="#f93e05"/><stop offset="0.7083" stop-color="#fb2d03"/><stop offset="0.75" stop-color="#fc1c02"/><stop offset="0.7917" stop-color="#fe0d01"/><stop offset="0.8333" stop-color="#fd0001"/><stop offset="0.875" stop-color="#f30008"/><stop offset="0.9167" stop-color="#e90010"/><stop offset="0.9583" stop-color="#df0017"/><stop offset="1" stop-color="#d5001e"/></linearGradient>
<linearGradient id="g72"><stop offset="0" stop-color="#58b3a6"/><stop offset="0.04167" stop-color="#5eb79a"/><stop offset="0.08333" stop-color="#64ba8f"/><stop offset="0.125" stop-color="#69bc86"/><stop offset="0.1667" stop-color="#6fbe7d"/><stop offset="0.2083" stop-color="#7bb871"/><stop offset="0.25" stop-color="#88b366"/><stop offset="0.2917" stop-color="#9bab56"/><stop offset="0.3333" stop-color="#afa345"/><stop offset="0.375" stop-color="#c29b34"/><stop offset="0.4167" stop-color="#d59323"/><stop offset="0.4583" stop-color="#e68c14"/><stop offset="0.5" stop-color="#f2820a"/><stop offset="0.5417" stop-color="#f47108"/><stop offset="0.5833" stop-color="#f66007"/><stop offset="0.625" stop-color="#f74e06"/><stop offset="0.6667" stop-color="#f93d05"/><stop offset="0.7083" stop-color="#fb2c03"/><stop offset="0.75" stop-color="#fc1b02"/><stop offset="0.7917" stop-color="#fe0c01"/><stop offset="0.8333" stop-color="#fd0002"/><stop offset="0.875" stop-color="#f30009"/><stop offset="0.9167" stop-color="#e80010"/><stop offset="0.9583" stop-color="#de0018"/><stop offset="1" stop-color="#d4001f"/></linearGradient>
<linearGradient id="g73"><stop offset="0" stop-color="#57b2a8"/><stop offset="0.04167" stop-color="#5db69d"/><stop offset="0.08333" stop-color="#63ba91"/><stop offset="0.125" stop-color="#68bc87"/><stop offset="0.1667" stop-color="#6dbe7e"/><stop offset="0.2083" stop-color="#79b973"/><stop offset="0.25" stop-color="#86b468"/><stop offset="0.2917" stop-color="#98ad59"/><stop offset="0.3333" stop-color="#aca447"/><stop offset="0.375" stop-color="#c09c36"/><stop offset="0.4167" stop-color="#d39425"/><stop offset="0.4583" stop-color="#e58d16"/><stop offset="0.5" stop-color="#f2840a"/><stop offset="0.5417" stop-color="#f47308"/><stop offset="0.5833" stop-color="#f66107"/><stop offset="0.625" stop-color="#f75006"/><stop offset="0.6667" stop-color="#f93f05"/><stop offset="0.7083" stop-color="#fb2d03"/><stop offset="0.75" stop-color="#fc1c02"/><stop offset="0.7917" stop-color="#fe0d01"/><stop offset="0.8333" stop-color="#fd0001"/><stop offset="0.875" stop-color="#f30009"/><stop offset="0.9167" stop-color="#e90010"/><stop offset="0.9583" stop-color="#df0018"/><stop offset="1" stop-color="#d4001f"/></linearGradient>
<linearGradient id="g74"><stop offset="0" stop-color="#56b1ab"/><stop offset="0.04167" stop-color="#5cb69f"/><stop offset="0.08333" stop-color="#62ba93"/><stop offset="0.125" stop-color="#67bc89"/><stop offset="0.1667" stop-color="#6dbe7f"/><stop offset="0.2083" stop-color="#78ba75"/><stop offset="0.25" stop-color="#84b569"/><stop offset="0.2917" stop-color="#95ae5b"/><stop offset="0.3333" stop-color="#aaa549"/><stop offset="0.375" stop-color="#bd9d38"/><stop offset="0.4167" stop-color="#d19527"/><stop offset="0.4583" stop-color="#e38d17"/><stop offset="0.5" stop-color="#f2860a"/><stop offset="0.5417" stop-color="#f47409"/><stop offset="0.5833" stop-color="#f66307"/><stop offset="0.625" stop-color="#f75106"/><stop offset="0.6667" stop-color="#f94005"/><stop offset="0.7083" stop-color="#fb2e03"/><stop offset="0.75" stop-color="#fc1d02"/><stop offset="0.7917" stop-color="#fe0d01"/><stop offset="0.8333" stop-color="#fe0001"/><stop offset="0.875" stop-color="#f30009"/><stop offset="0.9167" stop-color="#e90010"/><stop offset="0.9583" stop-color="#df0018"/><stop offset="1" stop-color="#d4001f"/></linearGradient>
<linearGradient id="g75"><stop offset="0" stop-color="#55afaf"/><stop offset="0.04167" stop-color="#5bb5a1"/><stop offset="0.08333" stop-color="#61b995"/><stop offset="0.125" stop-color="#67bb8a"/><stop offset="0.1667" stop-color="#6cbd81"/><stop offset="0.2083" stop-color="#76bb76"/><stop offset="0.25" stop-color="#83b56b"/><stop offset="0.2917" stop-color="#92af5d"/><stop offset="0.3333" stop-color="#a7a64b"/><stop offset="0.375" stop-color="#bb9e3a"/><stop offset="0.4167" stop-color="#cf9629"/><stop offset="0.4583" stop-color="#e18e18"/><stop offset="0.5" stop-color="#f2870a"/><stop offset="0.5417" stop-color="#f47609"/><stop offset="0.5833" stop-color="#f56407"/><stop offset="0.625" stop-color="#f75206"/><stop offset="0.6667" stop-color="#f94105"/><stop offset="0.7083" stop-color="#fa2f03"/><stop offset="0.75" stop-color="#fc1e02"/><stop offset="0.7917" stop-color="#fe0e01"/><stop offset="0.8333" stop-color="#fe0001"/><stop offset="0.875" stop-color="#f40008"/><stop offset="0.9167" stop-color="#e90010"/><stop offset="0.9583" stop-color="#df0017"/><stop offset="1" stop-color="#d4001f"/></linearGradient>
<linearGradient id="g76"><stop offset="0" stop-color="#54adb2"/><stop offset="0.04167" stop-color="#5ab4a3"/><stop offset="0.08333" stop-color="#60b997"/><stop offset="0.125" stop-color="#66bb8c"/><stop offset="0.1667" stop-color="#6bbd82"/><stop offset="0.2083" stop-color="#74bc78"/><stop offset="0.25" stop-color="#81b66d"/><stop offset="0.2917" stop-color="#90b060"/><stop offset="0.3333" stop-color="#a5a74d"/><stop offset="0.375" stop-color="#b99f3c"/><stop offset="0.4167" stop-color="#cd972b"/><stop offset="0.4583" stop-color="#e08f1a"/><stop offset="0.5" stop-color="#f0880c"/><stop offset="0.5417" stop-color="#f47709"/><stop offset="0.5833" stop-color="#f56508"/><stop offset="0.625" stop-color="#f75406"/><stop offset="0.6667" stop-color="#f94205"/><stop offset="0.7083" stop-color="#fa3004"/><stop offset="0.75" stop-color="#fc1e02"/><stop offset="0.7917" stop-color="#fe0f01"/><stop offset="0.8333" stop-color="#fe0001"/><stop offset="0.875" stop-color="#f40008"/><stop offset="0.9167" stop-color="#e90010"/><stop offset="0.9583" stop-color="#df0017"/><stop offset="1" stop-color="#d4001f"/></linearGradient>
<linearGradient id="g77"><stop offset="0" stop-color="#53acb5"/><stop offset="0.04167" stop-color="#59b3a4"/><stop offset="0.08333" stop-color="#5fb898"/><stop offset="0.125" stop-color="#65bb8c"/><stop offset="0.1667" stop-color="#6bbd83"/><stop offset="0.2083" stop-color="#73bc79"/><stop offset="0.25" stop-color="#80b66d"/><stop offset="0.2917" stop-color="#8fb060"/><stop offset="0.3333" stop-color="#a4a74e"/><stop offset="0.375" stop-color="#b89f3c"/><stop offset="0.4167" stop-color="#cc972b"/><stop offset="0.4583" stop-color="#e08f1a"/><stop offset="0.5" stop-color="#f0880b"/><stop offset="0.5417" stop-color="#f47709"/><stop offset="0.5833" stop-color="#f56507"/><stop offset="0.625" stop-color="#f75306"/><stop offset="0.6667" stop-color="#f94105"/><stop offset="0.7083" stop-color="#fa2f03"/><stop offset="0.75" stop-color="#fc1d02"/><stop offset="0.7917" stop-color="#fe0d01"/><stop offset="0.8333" stop-color="#fd0001"/><stop offset="0.875" stop-color="#f30009"/><stop offset="0.9167" stop-color="#e80011"/><stop offset="0.9583" stop-color="#de0018"/><stop offset="1" stop-color="#d30020"/></linearGradient>
<linearGradient id="g78"><stop offset="0" stop-color="#51aaba"/><stop offset="0.04167" stop-color="#57b2a7"/><stop offset="0.08333" stop-color="#5eb79b"/><stop offset="0.125" stop-color="#64ba8f"/><stop offset="0.1667" stop-color="#69bc85"/><stop offset="0.2083" stop-color="#70bd7c"/><stop offset="0.25" stop-color="#7db870"/><stop offset="0.2917" stop-color="#8ab264"/><stop offset="0.3333" stop-color="#9fa952"/><stop offset="0.375" stop-color="#b4a140"/><stop offset="0.4167" stop-color="#c8982f"/><stop offset="0.4583" stop-color="#dc901d"/><stop offset="0.5" stop-color="#ed890e"/><stop offset="0.5417" stop-color="#f37b09"/><stop offset="0.5833" stop-color="#f56808"/><stop offset="0.625" stop-color="#f75606"/><stop offset="0.6667" stop-color="#f84405"/><stop offset="0.7083" stop-color="#fa3204"/><stop offset="0.75" stop-color="#fc2002"/><stop offset="0.7917" stop-color="#fd1001"/><stop offset="0.8333" stop-color="#ff0000"/><stop offset="0.875" stop-color="#f50008"/><stop offset="0.9167" stop-color="#ea000f"/><stop offset="0.9583" stop-color="#df0017"/><stop offset="1" stop-color="#d5001f"/></linearGradient>
<linearGradient id="g79"><stop offset="0" stop-color="#4fa7c1"/><stop offset="0.04167" stop-color="#55b0ac"/><stop offset="0.08333" stop-color="#5bb59f"/><stop offset="0.125" stop-color="#62ba93"/><stop offset="0.1667" stop-color="#68bc88"/><stop offset="0.2083" stop-color="#6dbe7f"/><stop offset="0.25" stop-color="#79ba74"/><stop offset="0.2917" stop-color="#86b468"/><stop offset="0.3333" stop-color="#98ac58"/><stop offset="0.375" stop-color="#aea346"/><stop offset="0.4167" stop-color="#c29b34"/><stop offset="0.4583" stop-color="#d69323"/><stop offset="0.5" stop-color="#e88b13"/><stop offset="0.5417" stop-color="#f38009"/><stop offset="0.5833" stop-color="#f46e08"/><stop offset="0.625" stop-color="#f65c07"/><stop offset="0.6667" stop-color="#f84a05"/><stop offset="0.7083" stop-color="#fa3804"/><stop offset="0.75" stop-color="#fb2503"/><stop offset="0.7917" stop-color="#fd1502"/><stop offset="0.8333" stop-color="#ff0500"/><stop offset="0.875" stop-color="#f80005"/><stop offset="0.9167" stop-color="#ed000d"/><stop offset="0.9583" stop-color="#e20015"/><stop offset="1" stop-color="#d8001d"/></linearGradient>
<linearGradient id="g80"><stop offset="0" stop-color="#4ea5c6"/><stop offset="0.04167" stop-color="#54aeb1"/><stop offset="0.08333" stop-color="#5ab4a2"/><stop offset="0.125" stop-color="#60b995"/><stop offset="0.1667" stop-color="#67bb8a"/><stop offset="0.2083" stop-color="#6cbd81"/><stop offset="0.25" stop-color="#76bb76"/><stop offset="0.2917" stop-color="#84b56a"/><stop offset="0.3333" stop-color="#95ae5b"/><stop offset="0.375" stop-color="#aaa549"/><stop offset="0.4167" stop-color="#be9c37"/><stop offset="0.4583" stop-color="#d39425"/><stop offset="0.5" stop-color="#e58c15"/><stop offset="0.5417" stop-color="#f2830a"/><stop offset="0.5833" stop-color="#f47008"/><stop offset="0.625" stop-color="#f65e07"/><stop offset="0.6667" stop-color="#f84c06"/><stop offset="0.7083" stop-color="#f93a04"/><stop offset="0.75" stop-color="#fb2803"/><stop offset="0.7917" stop-color="#fd1702"/><stop offset="0.8333" stop-color="#fe0600"/><stop offset="0.875" stop-color="#f90005"/><stop offset="0.9167" stop-color="#ee000c"/><stop offset="0.9583" stop-color="#e30014"/><stop offset="1" stop-color="#d8001c"/></linearGradient>
<linearGradient id="g81"><stop offset="0" stop-color="#4ca2cd"/><stop offset="0.04167" stop-color="#52abb9"/><stop offset="0.08333" stop-color="#58b2a6"/><stop offset="0.125" stop-color="#5eb79a"/><stop offset="0.1667" stop-color="#65bb8e"/><stop offset="0.2083" stop-color="#6abd84"/><stop offset="0.25" stop-color="#71bd7a"/><stop offset="0.2917" stop-color="#7fb76e"/><stop offset="0.3333" stop-color="#8db162"/><stop offset="0.375" stop-color="#a2a84f"/><stop offset="0.4167" stop-color="#b7a03d"/><stop offset="0.4583" stop-color="#cb972c"/><stop offset="0.5" stop-color="#df8f1a"/><stop offset="0.5417" stop-color="#f0880c"/><stop offset="0.5833" stop-color="#f47709"/><stop offset="0.625" stop-color="#f56507"/><stop offset="0.6667" stop-color="#f75306"/><stop offset="0.7083" stop-color="#f94005"/><stop offset="0.75" stop-color="#fb2e03"/><stop offset="0.7917" stop-color="#fc1c02"/><stop offset="0.8333" stop-color="#fe0c01"/><stop offset="0.875" stop-color="#fc0002"/><stop offset="0.9167" stop-color="#f2000a"/><stop offset="0.9583" stop-color="#e70012"/><stop offset="1" stop-color="#dc0019"/></linearGradient>
<linearGradient id="g82"><stop offset="0" stop-color="#4b9fd3"/><stop offset="0.04167" stop-color="#50a7c0"/><stop offset="0.08333" stop-color="#56b0ab"/><stop offset="0.125" stop-color="#5cb69e"/><stop offset="0.1667" stop-color="#62ba92"/><stop offset="0.2083" stop-color="#68bc88"/><stop offset="0.25" stop-color="#6dbe7e"/><stop offset="0.2917" stop-color="#7ab973"/><stop offset="0.3333" stop-color="#87b367"/><stop offset="0.375" stop-color="#9bab56"/><stop offset="0.4167" stop-color="#b0a344"/><stop offset="0.4583" stop-color="#c49a32"/><stop offset="0.5" stop-color="#d99220"/><stop offset="0.5417" stop-color="#ea8a11"/><stop offset="0.5833" stop-color="#f37d09"/><stop offset="0.625" stop-color="#f56b08"/><stop offset="0.6667" stop-color="#f65907"/><stop offset="0.7083" stop-color="#f84705"/><stop offset="0.75" stop-color="#fa3404"/><stop offset="0.7917" stop-color="#fc2203"/><stop offset="0.8333" stop-color="#fd1201"/><stop offset="0.875" stop-color="#ff0100"/><stop offset="0.9167" stop-color="#f50007"/><stop offset="0.9583" stop-color="#ea000f"/><stop offset="1" stop-color="#e00017"/></linearGradient>
<linearGradient id="g83"><stop offset="0" stop-color="#4a9dd7"/><stop offset="0.04167" stop-color="#4ea5c7"/><stop offset="0.08333" stop-color="#54aeb2"/><stop offset="0.125" stop-color="#5ab4a2"/><stop offset="0.1667" stop-color="#60b996"/><stop offset="0.2083" stop-color="#66bb8b"/><stop offset="0.25" stop-color="#6cbd81"/><stop offset="0.2917" stop-color="#76bb76"/><stop offset="0.3333" stop-color="#84b56a"/><stop offset="0.375" stop-color="#95ae5b"/><stop offset="0.4167" stop-color="#aaa548"/><stop offset="0.4583" stop-color="#bf9c37"/><stop offset="0.5" stop-color="#d39425"/><stop offset="0.5417" stop-color="#e68c15"/><stop offset="0.5833" stop-color="#f2820a"/><stop offset="0.625" stop-color="#f47008"/><stop offset="0.6667" stop-color="#f65d07"/><stop offset="0.7083" stop-color="#f84b06"/><stop offset="0.75" stop-color="#fa3904"/><stop offset="0.7917" stop-color="#fb2603"/><stop offset="0.8333" stop-color="#fd1502"/><stop offset="0.875" stop-color="#fe0500"/><stop offset="0.9167" stop-color="#f80005"/><stop offset="0.9583" stop-color="#ed000d"/><stop offset="1" stop-color="#e20015"/></linearGradient>
<linearGradient id="g84"><stop offset="0" stop-color="#499bda"/><stop offset="0.04167" stop-color="#4da3ca"/><stop offset="0.08333" stop-color="#53acb5"/><stop offset="0.125" stop-color="#59b3a4"/><stop offset="0.1667" stop-color="#5fb997"/><stop offset="0.2083" stop-color="#66bb8c"/><stop offset="0.25" stop-color="#6bbd82"/><stop offset="0.2917" stop-color="#75bb77"/><stop offset="0.3333" stop-color="#82b66b"/><stop offset="0.375" stop-color="#93af5d"/><stop offset="0.4167" stop-color="#a9a64a"/><stop offset="0.4583" stop-color="#bd9d38"/><stop offset="0.5" stop-color="#d29426"/><stop offset="0.5417" stop-color="#e58c15"/><stop offset="0.5833" stop-color="#f2830a"/><stop offset="0.625" stop-color="#f47008"/><stop offset="0.6667" stop-color="#f65e07"/><stop offset="0.7083" stop-color="#f84b06"/><stop offset="0.75" stop-color="#fa3904"/><stop offset="0.7917" stop-color="#fb2603"/><stop offset="0.8333" stop-color="#fd1502"/><stop offset="0.875" stop-color="#ff0500"/><stop offset="0.9167" stop-color="#f70006"/><stop offset="0.9583" stop-color="#ec000e"/><stop offset="1" stop-color="#e10015"/></linearGradient>
<linearGradient id="g85"><stop offset="0" stop-color="#499adc"/><stop offset="0.04167" stop-color="#4ca2cd"/><stop offset="0.08333" stop-color="#52abb8"/><stop offset="0.125" stop-color="#58b3a6"/><stop offset="0.1667" stop-color="#5fb899"/><stop offset="0.2083" stop-color="#65bb8d"/><stop offset="0.25" stop-color="#6bbd83"/><stop offset="0.2917" stop-color="#73bc78"/><stop offset="0.3333" stop-color="#81b66c"/><stop offset="0.375" stop-color="#91af5e"/><stop offset="0.4167" stop-color="#a7a64b"/><stop offset="0.4583" stop-color="#bc9d39"/><stop offset="0.5" stop-color="#d19527"/><stop offset="0.5417" stop-color="#e48d16"/><stop offset="0.5833" stop-color="#f2830a"/><stop offset="0.625" stop-color="#f47108"/><stop offset="0.6667" stop-color="#f65e07"/><stop offset="0.7083" stop-color="#f84b06"/><stop offset="0.75" stop-color="#fa3904"/><stop offset="0.7917" stop-color="#fb2603"/><stop offset="0.8333" stop-color="#fd1502"/><stop offset="0.875" stop-color="#ff0400"/><stop offset="0.9167" stop-color="#f70006"/><stop offset="0.9583" stop-color="#ec000e"/><stop offset="1" stop-color="#e10016"/></linearGradient>
<linearGradient id="g86"><stop offset="0" stop-color="#4899df"/><stop offset="0.04167" stop-color="#4ba1cf"/><stop offset="0.08333" stop-color="#51aabb"/><stop offset="0.125" stop-color="#57b2a7"/><stop offset="0.1667" stop-color="#5eb79a"/><stop offset="0.2083" stop-color="#64bb8e"/><stop offset="0.25" stop-color="#6abd84"/><stop offset="0.2917" stop-color="#72bc7a"/><stop offset="0.3333" stop-color="#80b76d"/><stop offset="0.375" stop-color="#8fb060"/><stop offset="0.4167" stop-color="#a6a74c"/><stop offset="0.4583" stop-color="#bb9e3a"/><stop offset="0.5" stop-color="#d09528"/><stop offset="0.5417" stop-color="#e48d17"/><stop offset="0.5833" stop-color="#f2840a"/><stop offset="0.625" stop-color="#f47108"/><stop offset="0.6667" stop-color="#f65e07"/><stop offset="0.7083" stop-color="#f84b06"/><stop offset="0.75" stop-color="#fa3904"/><stop offset="0.7917" stop-color="#fb2603"/><stop offset="0.8333" stop-color="#fd1402"/><stop offset="0.875" stop-color="#ff0400"/><stop offset="0.9167" stop-color="#f60006"/><stop offset="0.9583" stop-color="#eb000e"/><stop offset="1" stop-color="#e00016"/></linearGradient>
<linearGradient id="g87"><stop offset="0" stop-color="#4898e1"/><stop offset="0.04167" stop-color="#4ba0d2"/><stop offset="0.08333" stop-color="#50a8be"/><stop offset="0.125" stop-color="#57b1a9"/><stop offset="0.1667" stop-color="#5db79c"/><stop offset="0.2083" stop-color="#64ba8f"/><stop offset="0.25" stop-color="#69bc85"/><stop offset="0.2917" stop-color="#71bd7b"/><stop offset="0.3333" stop-color="#7fb76e"/><stop offset="0.375" stop-color="#8eb161"/><stop offset="0.4167" stop-color="#a4a74e"/><stop offset="0.4583" stop-color="#ba9e3b"/><stop offset="0.5" stop-color="#cf9629"/><stop offset="0.5417" stop-color="#e38d17"/><stop offset="0.5833" stop-color="#f2840a"/><stop offset="0.625" stop-color="#f47108"/><stop offset="0.6667" stop-color="#f65e07"/><stop offset="0.7083" stop-color="#f84b06"/><stop offset="0.75" stop-color="#fa3804"/><stop offset="0.7917" stop-color="#fb2503"/><stop offset="0.8333" stop-color="#fd1401"/><stop offset="0.875" stop-color="#ff0300"/><stop offset="0.9167" stop-color="#f60007"/><stop offset="0.9583" stop-color="#eb000f"/><stop offset="1" stop-color="#df0017"/></linearGradient>
<linearGradient id="g88"><stop offset="0" stop-color="#4796e4"/><stop offset="0.04167" stop-color="#4a9ed4"/><stop offset="0.08333" stop-color="#4fa7c1"/><stop offset="0.125" stop-color="#56b0ab"/><stop offset="0.1667" stop-color="#5cb69e"/><stop offset="0.2083" stop-color="#63ba91"/><stop offset="0.25" stop-color="#69bc86"/><stop offset="0.2917" stop-color="#6fbd7c"/><stop offset="0.3333" stop-color="#7eb86f"/><stop offset="0.375" stop-color="#8cb163"/><stop offset="0.4167" stop-color="#a3a84f"/><stop offset="0.4583" stop-color="#b99f3c"/><stop offset="0.5" stop-color="#ce9629"/><stop offset="0.5417" stop-color="#e28e18"/><stop offset="0.5833" stop-color="#f2850a"/><stop offset="0.625" stop-color="#f47208"/><stop offset="0.6667" stop-color="#f65e07"/><stop offset="0.7083" stop-color="#f84b06"/><stop offset="0.75" stop-color="#fa3804"/><stop offset="0.7917" stop-color="#fb2503"/><stop offset="0.8333" stop-color="#fd1301"/><stop offset="0.875" stop-color="#ff0200"/><stop offset="0.9167" stop-color="#f50007"/><stop offset="0.9583" stop-color="#ea000f"/><stop offset="1" stop-color="#df0018"/></linearGradient>
<linearGradient id="g89"><stop offset="0" stop-color="#4695e6"/><stop offset="0.04167" stop-color="#4a9dd6"/><stop offset="0.08333" stop-color="#4fa6c4"/><stop offset="0.125" stop-color="#55afae"/><stop offset="0.1667" stop-color="#5bb59f"/><stop offset="0.2083" stop-color="#62ba92"/><stop offset="0.25" stop-color="#68bc87"/><stop offset="0.2917" stop-color="#6ebe7d"/><stop offset="0.3333" stop-color="#7cb871"/><stop offset="0.375" stop-color="#8bb264"/><stop offset="0.4167" stop-color="#a1a950"/><stop offset="0.4583" stop-color="#b79f3d"/><stop offset="0.5" stop-color="#cd962a"/><stop offset="0.5417" stop-color="#e28e18"/><stop offset="0.5833" stop-color="#f2850a"/><stop offset="0.625" stop-color="#f47208"/><stop offset="0.6667" stop-color="#f65f07"/><stop offset="0.7083" stop-color="#f84b06"/><stop offset="0.75" stop-color="#fa3804"/><stop offset="0.7917" stop-color="#fc2403"/><stop offset="0.8333" stop-color="#fd1301"/><stop offset="0.875" stop-color="#ff0100"/><stop offset="0.9167" stop-color="#f50008"/><stop offset="0.9583" stop-color="#e90010"/><stop offset="1" stop-color="#de0018"/></linearGradient>
<linearGradient id="g90"><stop offset="0" stop-color="#4693e8"/><stop offset="0.04167" stop-color="#499cd9"/><stop offset="0.08333" stop-color="#4ea4c8"/><stop offset="0.125" stop-color="#54aeb1"/><stop offset="0.1667" stop-color="#5ab5a1"/><stop offset="0.2083" stop-color="#61b994"/><stop offset="0.25" stop-color="#68bc88"/><stop offset="0.2917" stop-color="#6dbe7e"/><stop offset="0.3333" stop-color="#7bb972"/><stop offset="0.375" stop-color="#89b365"/><stop offset="0.4167" stop-color="#a0a952"/><stop offset="0.4583" stop-color="#b6a03e"/><stop offset="0.5" stop-color="#cc972b"/><stop offset="0.5417" stop-color="#e18e19"/><stop offset="0.5833" stop-color="#f2860a"/><stop offset="0.625" stop-color="#f47308"/><stop offset="0.6667" stop-color="#f65f07"/><stop offset="0.7083" stop-color="#f84b06"/><stop offset="0.75" stop-color="#fa3804"/><stop offset="0.7917" stop-color="#fc2403"/><stop offset="0.8333" stop-color="#fd1201"/><stop offset="0.875" stop-color="#ff0100"/><stop offset="0.9167" stop-color="#f40008"/><stop offset="0.9583" stop-color="#e90010"/><stop offset="1" stop-color="#dd0019"/></linearGradient>
<linearGradient id="g91"><stop offset="0" stop-color="#4591e6"/><stop offset="0.04167" stop-color="#499adc"/><stop offset="0.08333" stop-color="#4da3cb"/><stop offset="0.125" stop-color="#53acb5"/><stop offset="0.1667" stop-color="#5ab4a3"/><stop offset="0.2083" stop-color="#60b995"/><stop offset="0.25" stop-color="#67bb8a"/><stop offset="0.2917" stop-color="#6dbe7f"/><stop offset="0.3333" stop-color="#7ab973"/><stop offset="0.375" stop-color="#88b366"/><stop offset="0.4167" stop-color="#9eaa53"/><stop offset="0.4583" stop-color="#b4a140"/><stop offset="0.5" stop-color="#ca972c"/><stop offset="0.5417" stop-color="#e08f1a"/><stop offset="0.5833" stop-color="#f2870a"/><stop offset="0.625" stop-color="#f47309"/><stop offset="0.6667" stop-color="#f65f07"/><stop offset="0.7083" stop-color="#f84c06"/><stop offset="0.75" stop-color="#fa3804"/><stop offset="0.7917" stop-color="#fc2403"/><stop offset="0.8333" stop-color="#fd1201"/><stop offset="0.875" stop-color="#ff0100"/><stop offset="0.9167" stop-color="#f40008"/><stop offset="0.9583" stop-color="#e80011"/><stop offset="1" stop-color="#dc0019"/></linearGradient>
<linearGradient id="g92"><stop offset="0" stop-color="#458ee4"/><stop offset="0.04167" stop-color="#4899de"/><stop offset="0.08333" stop-color="#4ca1ce"/><stop offset="0.125" stop-color="#52abb8"/><stop offset="0.1667" stop-color="#59b3a5"/><stop offset="0.2083" stop-color="#5fb997"/><stop offset="0.25" stop-color="#66bb8b"/><stop offset="0.2917" stop-color="#6cbd80"/><stop offset="0.3333" stop-color="#78ba74"/><stop offset="0.375" stop-color="#87b467"/><stop offset="0.4167" stop-color="#9cab55"/><stop offset="0.4583" stop-color="#b3a141"/><stop offset="0.5" stop-color="#c9982e"/><stop offset="0.5417" stop-color="#df8f1b"/><stop offset="0.5833" stop-color="#f1870b"/><stop offset="0.625" stop-color="#f47409"/><stop offset="0.6667" stop-color="#f66007"/><stop offset="0.7083" stop-color="#f84c06"/><stop offset="0.75" stop-color="#fa3804"/><stop offset="0.7917" stop-color="#fc2403"/><stop offset="0.8333" stop-color="#fd1201"/><stop offset="0.875" stop-color="#ff0000"/><stop offset="0.9167" stop-color="#f30009"/><stop offset="0.9583" stop-color="#e70011"/><stop offset="1" stop-color="#dc001a"/></linearGradient>
<linearGradient id="g93"><stop offset="0" stop-color="#458ce2"/><stop offset="0.04167" stop-color="#4898e1"/><stop offset="0.08333" stop-color="#4ba0d0"/><stop offset="0.125" stop-color="#51aabb"/><stop offset="0.1667" stop-color="#58b2a6"/><stop offset="0.2083" stop-color="#5fb898"/><stop offset="0.25" stop-color="#66bb8c"/><stop offset="0.2917" stop-color="#6cbd81"/><stop offset="0.3333" stop-color="#77ba75"/><stop offset="0.375" stop-color="#86b468"/><stop offset="0.4167" stop-color="#9bab56"/><stop offset="0.4583" stop-color="#b2a242"/><stop offset="0.5" stop-color="#c8982e"/><stop offset="0.5417" stop-color="#df8f1b"/><stop offset="0.5833" stop-color="#f1870b"/><stop offset="0.625" stop-color="#f47409"/><stop offset="0.6667" stop-color="#f66007"/><stop offset="0.7083" stop-color="#f84b06"/><stop offset="0.75" stop-color="#fa3704"/><stop offset="0.7917" stop-color="#fc2303"/><stop offset="0.8333" stop-color="#fd1101"/><stop offset="0.875" stop-color="#fe0001"/><stop offset="0.9167" stop-color="#f20009"/><stop offset="0.9583" stop-color="#e60012"/><stop offset="1" stop-color="#db001b"/></linearGradient>
<linearGradient id="g94"><stop offset="0" stop-color="#448ae0"/><stop offset="0.04167" stop-color="#4797e3"/><stop offset="0.08333" stop-color="#4b9fd3"/><stop offset="0.125" stop-color="#50a9be"/><stop offset="0.1667" stop-color="#57b2a8"/><stop offset="0.2083" stop-color="#5eb79a"/><stop offset="0.25" stop-color="#65bb8d"/><stop offset="0.2917" stop-color="#6bbd82"/><stop offset="0.3333" stop-color="#76bb76"/><stop offset="0.375" stop-color="#85b469"/><stop offset="0.4167" stop-color="#9aac57"/><stop offset="0.4583" stop-color="#b1a242"/><stop offset="0.5" stop-color="#c8992f"/><stop offset="0.5417" stop-color="#de8f1b"/><stop offset="0.5833" stop-color="#f1870b"/><stop offset="0.625" stop-color="#f47409"/><stop offset="0.6667" stop-color="#f65f07"/><stop offset="0.7083" stop-color="#f84b06"/><stop offset="0.75" stop-color="#fa3604"/><stop offset="0.7917" stop-color="#fc2203"/><stop offset="0.8333" stop-color="#fe1001"/><stop offset="0.875" stop-color="#fd0001"/><stop offset="0.9167" stop-color="#f1000a"/><stop offset="0.9583" stop-color="#e50013"/><stop offset="1" stop-color="#d9001b"/></linearGradient>
<linearGradient id="g95"><stop offset="0" stop-color="#4487de"/><stop offset="0.04167" stop-color="#4795e6"/><stop offset="0.08333" stop-color="#4a9ed5"/><stop offset="0.125" stop-color="#4fa7c1"/><stop offset="0.1667" stop-color="#56b1aa"/><stop offset="0.2083" stop-color="#5db79c"/><stop offset="0.25" stop-color="#64bb8e"/><stop offset="0.2917" stop-color="#6bbd83"/><stop offset="0.3333" stop-color="#75bb77"/><stop offset="0.375" stop-color="#84b56a"/><stop offset="0.4167" stop-color="#98ad59"/><stop offset="0.4583" stop-color="#b0a344"/><stop offset="0.5" stop-color="#c79930"/><stop offset="0.5417" stop-color="#de8f1c"/><stop offset="0.5833" stop-color="#f1880b"/><stop offset="0.625" stop-color="#f47409"/><stop offset="0.6667" stop-color="#f65f07"/><stop offset="0.7083" stop-color="#f84b06"/><stop offset="0.75" stop-color="#fa3604"/><stop offset="0.7917" stop-color="#fc2102"/><stop offset="0.8333" stop-color="#fe0f01"/><stop offset="0.875" stop-color="#fd0002"/><stop offset="0.9167" stop-color="#f1000a"/><stop offset="0.9583" stop-color="#e40013"/><stop offset="1" stop-color="#d8001c"/></linearGradient>
<linearGradient id="g96"><stop offset="0" stop-color="#4384dc"/><stop offset="0.04167" stop-color="#4694e8"/><stop offset="0.08333" stop-color="#4a9cd8"/><stop offset="0.125" stop-color="#4ea6c5"/><stop offset="0.1667" stop-color="#55b0ad"/><stop offset="0.2083" stop-color="#5cb69d"/><stop offset="0.25" stop-color="#64ba8f"/><stop offset="0.2917" stop-color="#6abd84"/><stop offset="0.3333" stop-color="#73bc79"/><stop offset="0.375" stop-color="#82b56b"/><stop offset="0.4167" stop-color="#96ad5a"/><stop offset="0.4583" stop-color="#aea345"/><stop offset="0.5" stop-color="#c59a31"/><stop offset="0.5417" stop-color="#dc901d"/><stop offset="0.5833" stop-color="#f0880c"/><stop offset="0.625" stop-color="#f47509"/><stop offset="0.6667" stop-color="#f66007"/><stop offset="0.7083" stop-color="#f84b06"/><stop offset="0.75" stop-color="#fa3604"/><stop offset="0.7917" stop-color="#fc2102"/><stop offset="0.8333" stop-color="#fe0f01"/><stop offset="0.875" stop-color="#fc0002"/><stop offset="0.9167" stop-color="#f0000b"/><stop offset="0.9583" stop-color="#e40014"/><stop offset="1" stop-color="#d8001d"/></linearGradient>
<linearGradient id="g97"><stop offset="0" stop-color="#4381da"/><stop offset="0.04167" stop-color="#4591e6"/><stop offset="0.08333" stop-color="#499bdb"/><stop offset="0.125" stop-color="#4da4c8"/><stop offset="0.1667" stop-color="#54aeb1"/><stop offset="0.2083" stop-color="#5bb5a0"/><stop offset="0.25" stop-color="#63ba91"/><stop offset="0.2917" stop-color="#69bc86"/><stop offset="0.3333" stop-color="#71bd7a"/><stop offset="0.375" stop-color="#81b66d"/><stop offset="0.4167" stop-color="#93ae5c"/><stop offset="0.4583" stop-color="#aca447"/><stop offset="0.5" stop-color="#c39a33"/><stop offset="0.5417" stop-color="#db911e"/><stop offset="0.5833" stop-color="#ef880d"/><stop offset="0.625" stop-color="#f47609"/><stop offset="0.6667" stop-color="#f66107"/><stop offset="0.7083" stop-color="#f84c06"/><stop offset="0.75" stop-color="#fa3704"/><stop offset="0.7917" stop-color="#fc2102"/><stop offset="0.8333" stop-color="#fe0f01"/><stop offset="0.875" stop-color="#fc0002"/><stop offset="0.9167" stop-color="#f0000b"/><stop offset="0.9583" stop-color="#e40014"/><stop offset="1" stop-color="#d7001d"/></linearGradient>
<linearGradient id="g98"><stop offset="0" stop-color="#427ed8"/><stop offset="0.04167" stop-color="#458ee3"/><stop offset="0.08333" stop-color="#4899de"/><stop offset="0.125" stop-color="#4ca2cd"/><stop offset="0.1667" stop-color="#53acb5"/><stop offset="0.2083" stop-color="#5ab4a2"/><stop offset="0.25" stop-color="#61ba93"/><stop offset="0.2917" stop-color="#68bc87"/><stop offset="0.3333" stop-color="#6fbe7c"/><stop offset="0.375" stop-color="#7fb76e"/><stop offset="0.4167" stop-color="#91b05f"/><stop offset="0.4583" stop-color="#aaa549"/><stop offset="0.5" stop-color="#c19b34"/><stop offset="0.5417" stop-color="#d99120"/><stop offset="0.5833" stop-color="#ed890e"/><stop offset="0.625" stop-color="#f47709"/><stop offset="0.6667" stop-color="#f66207"/><stop offset="0.7083" stop-color="#f84d06"/><stop offset="0.75" stop-color="#fa3704"/><stop offset="0.7917" stop-color="#fc2203"/><stop offset="0.8333" stop-color="#fe0f01"/><stop offset="0.875" stop-color="#fc0002"/><stop offset="0.9167" stop-color="#f0000b"/><stop offset="0.9583" stop-color="#e30014"/><stop offset="1" stop-color="#d7001d"/></linearGradient>
<linearGradient id="g99"><stop offset="0" stop-color="#427ad3"/><stop offset="0.04167" stop-color="#448ae1"/><stop offset="0.08333" stop-color="#4797e1"/><stop offset="0.125" stop-color="#4ba0d0"/><stop offset="0.1667" stop-color="#52abb9"/><stop offset="0.2083" stop-color="#59b3a4"/><stop offset="0.25" stop-color="#60b996"/><stop offset="0.2917" stop-color="#67bc89"/><stop offset="0.3333" stop-color="#6ebe7e"/><stop offset="0.375" stop-color="#7db870"/><stop offset="0.4167" stop-color="#8db162"/><stop offset="0.4583" stop-color="#a7a64c"/><stop offset="0.5" stop-color="#bf9c37"/><stop offset="0.5417" stop-color="#d69222"/><stop offset="0.5833" stop-color="#eb8a10"/><stop offset="0.625" stop-color="#f37909"/><stop offset="0.6667" stop-color="#f56407"/><stop offset="0.7083" stop-color="#f74e06"/><stop offset="0.75" stop-color="#fa3904"/><stop offset="0.7917" stop-color="#fc2303"/><stop offset="0.8333" stop-color="#fd1001"/><stop offset="0.875" stop-color="#fd0002"/><stop offset="0.9167" stop-color="#f0000b"/><stop offset="0.9583" stop-color="#e40014"/><stop offset="1" stop-color="#d7001d"/></linearGradient>
<linearGradient id="g100"><stop offset="0" stop-color="#4375cd"/><stop offset="0.04167" stop-color="#4487de"/><stop offset="0.08333" stop-color="#4795e5"/><stop offset="0.125" stop-color="#4b9fd4"/><stop offset="0.1667" stop-color="#50a8be"/><stop offset="0.2083" stop-color="#57b2a7"/><stop offset="0.25" stop-color="#5fb899"/><stop offset="0.2917" stop-color="#66bb8b"/><stop offset="0.3333" stop-color="#6cbd80"/><stop offset="0.375" stop-color="#7ab972"/><stop offset="0.4167" stop-color="#8ab265"/><stop offset="0.4583" stop-color="#a3a84f"/><stop offset="0.5" stop-color="#bb9e3a"/><stop offset="0.5417" stop-color="#d39425"/><stop offset="0.5833" stop-color="#e98b12"/><stop offset="0.625" stop-color="#f37b09"/><stop offset="0.6667" stop-color="#f56608"/><stop offset="0.7083" stop-color="#f75006"/><stop offset="0.75" stop-color="#f93a04"/><stop offset="0.7917" stop-color="#fb2503"/><stop offset="0.8333" stop-color="#fd1101"/><stop offset="0.875" stop-color="#fe0001"/><stop offset="0.9167" stop-color="#f1000a"/><stop offset="0.9583" stop-color="#e40013"/><stop offset="1" stop-color="#d7001d"/></linearGradient>
<linearGradient id="g101"><stop offset="0" stop-color="#4471c7"/><stop offset="0.04167" stop-color="#4383db"/><stop offset="0.08333" stop-color="#4693e7"/><stop offset="0.125" stop-color="#4a9dd7"/><stop offset="0.1667" stop-color="#4fa6c3"/><stop offset="0.2083" stop-color="#56b1aa"/><stop offset="0.25" stop-color="#5db79b"/><stop offset="0.2917" stop-color="#65bb8d"/><stop offset="0.3333" stop-color="#6bbd82"/><stop offset="0.375" stop-color="#77ba75"/><stop offset="0.4167" stop-color="#88b367"/><stop offset="0.4583" stop-color="#9faa52"/><stop offset="0.5" stop-color="#b89f3c"/><stop offset="0.5417" stop-color="#d09527"/><stop offset="0.5833" stop-color="#e68c14"/><stop offset="0.625" stop-color="#f37e09"/><stop offset="0.6667" stop-color="#f56808"/><stop offset="0.7083" stop-color="#f75206"/><stop offset="0.75" stop-color="#f93c04"/><stop offset="0.7917" stop-color="#fb2703"/><stop offset="0.8333" stop-color="#fd1301"/><stop offset="0.875" stop-color="#fe0000"/><stop offset="0.9167" stop-color="#f2000a"/><stop offset="0.9583" stop-color="#e50013"/><stop offset="1" stop-color="#d8001c"/></linearGradient>
<linearGradient id="g102"><stop offset="0" stop-color="#446cc1"/><stop offset="0.04167" stop-color="#427fd9"/><stop offset="0.08333" stop-color="#4590e5"/><stop offset="0.125" stop-color="#499bdb"/><stop offset="0.1667" stop-color="#4da4c8"/><stop offset="0.2083" stop-color="#55afaf"/><stop offset="0.25" stop-color="#5cb69e"/><stop offset="0.2917" stop-color="#64ba8f"/><stop offset="0.3333" stop-color="#6abd84"/><stop offset="0.375" stop-color="#75bb77"/><stop offset="0.4167" stop-color="#85b469"/><stop offset="0.4583" stop-color="#9cab55"/><stop offset="0.5" stop-color="#b5a03f"/><stop offset="0.5417" stop-color="#ce962a"/><stop offset="0.5833" stop-color="#e48d16"/><stop offset="0.625" stop-color="#f38009"/><stop offset="0.6667" stop-color="#f56a08"/><stop offset="0.7083" stop-color="#f75406"/><stop offset="0.75" stop-color="#f93e05"/><stop offset="0.7917" stop-color="#fb2803"/><stop offset="0.8333" stop-color="#fd1301"/><stop offset="0.875" stop-color="#ff0000"/><stop offset="0.9167" stop-color="#f20009"/><stop offset="0.9583" stop-color="#e50013"/><stop offset="1" stop-color="#d8001c"/></linearGradient>
<linearGradient id="g103"><stop offset="0" stop-color="#4567bb"/><stop offset="0.04167" stop-color="#427bd4"/><stop offset="0.08333" stop-color="#458ce2"/><stop offset="0.125" stop-color="#4899df"/><stop offset="0.1667" stop-color="#4ca2cd"/><stop offset="0.2083" stop-color="#53adb4"/><stop offset="0.25" stop-color="#5ab5a1"/><stop offset="0.2917" stop-color="#62ba92"/><stop offset="0.3333" stop-color="#69bc86"/><stop offset="0.375" stop-color="#72bc79"/><stop offset="0.4167" stop-color="#82b56b"/><stop offset="0.4583" stop-color="#97ad59"/><stop offset="0.5" stop-color="#b1a243"/><stop offset="0.5417" stop-color="#ca982d"/><stop offset="0.5833" stop-color="#e18e18"/><stop offset="0.625" stop-color="#f2830a"/><stop offset="0.6667" stop-color="#f56d08"/><stop offset="0.7083" stop-color="#f75706"/><stop offset="0.75" stop-color="#f94005"/><stop offset="0.7917" stop-color="#fb2a03"/><stop offset="0.8333" stop-color="#fd1502"/><stop offset="0.875" stop-color="#ff0200"/><stop offset="0.9167" stop-color="#f30009"/><stop offset="0.9583" stop-color="#e60012"/><stop offset="1" stop-color="#d9001c"/></linearGradient>
<linearGradient id="g104"><stop offset="0" stop-color="#4662b4"/><stop offset="0.04167" stop-color="#4375cd"/><stop offset="0.08333" stop-color="#4487df"/><stop offset="0.125" stop-color="#4796e4"/><stop offset="0.1667" stop-color="#4b9fd2"/><stop offset="0.2083" stop-color="#51aabb"/><stop offset="0.25" stop-color="#59b3a5"/><stop offset="0.2917" stop-color="#60b996"/><stop offset="0.3333" stop-color="#67bc89"/><stop offset="0.375" stop-color="#6ebe7d"/><stop offset="0.4167" stop-color="#7eb76f"/><stop offset="0.4583" stop-color="#91af5e"/><stop offset="0.5" stop-color="#aba447"/><stop offset="0.5417" stop-color="#c49a32"/><stop offset="0.5833" stop-color="#dd901c"/><stop offset="0.625" stop-color="#f1870a"/><stop offset="0.6667" stop-color="#f47108"/><stop offset="0.7083" stop-color="#f65b07"/><stop offset="0.75" stop-color="#f84505"/><stop offset="0.7917" stop-color="#fb2e03"/><stop offset="0.8333" stop-color="#fd1902"/><stop offset="0.875" stop-color="#fe0500"/><stop offset="0.9167" stop-color="#f50007"/><stop offset="0.9583" stop-color="#e80011"/><stop offset="1" stop-color="#db001a"/></linearGradient>
<linearGradient id="g105"><stop offset="0" stop-color="#475cac"/><stop offset="0.04167" stop-color="#446fc5"/><stop offset="0.08333" stop-color="#4382db"/><stop offset="0.125" stop-color="#4693e7"/><stop offset="0.1667" stop-color="#4a9cd8"/><stop offset="0.2083" stop-color="#4fa6c3"/><stop offset="0.25" stop-color="#56b1aa"/><stop offset="0.2917" stop-color="#5eb79a"/><stop offset="0.3333" stop-color="#66bb8c"/><stop offset="0.375" stop-color="#6cbd80"/><stop offset="0.4167" stop-color="#7ab973"/><stop offset="0.4583" stop-color="#8ab264"/><stop offset="0.5" stop-color="#a4a74e"/><stop offset="0.5417" stop-color="#bd9d38"/><stop offset="0.5833" stop-color="#d69322"/><stop offset="0.625" stop-color="#ec8a0f"/><stop offset="0.6667" stop-color="#f47709"/><stop offset="0.7083" stop-color="#f66107"/><stop offset="0.75" stop-color="#f84a06"/><stop offset="0.7917" stop-color="#fa3404"/><stop offset="0.8333" stop-color="#fc1e02"/><stop offset="0.875" stop-color="#fe0a01"/><stop offset="0.9167" stop-color="#f90005"/><stop offset="0.9583" stop-color="#eb000e"/><stop offset="1" stop-color="#de0018"/></linearGradient>
<linearGradient id="g106"><stop offset="0" stop-color="#4956a4"/><stop offset="0.04167" stop-color="#4568bc"/><stop offset="0.08333" stop-color="#427cd5"/><stop offset="0.125" stop-color="#458de3"/><stop offset="0.1667" stop-color="#4899de"/><stop offset="0.2083" stop-color="#4ca3cb"/><stop offset="0.25" stop-color="#54aeb2"/><stop offset="0.2917" stop-color="#5bb5a0"/><stop offset="0.3333" stop-color="#63ba90"/><stop offset="0.375" stop-color="#6abd84"/><stop offset="0.4167" stop-color="#74bb77"/><stop offset="0.4583" stop-color="#85b469"/><stop offset="0.5" stop-color="#9cab55"/><stop offset="0.5417" stop-color="#b5a03f"/><stop offset="0.5833" stop-color="#ce9629"/><stop offset="0.625" stop-color="#e68c15"/><stop offset="0.6667" stop-color="#f37e09"/><stop offset="0.7083" stop-color="#f56808"/><stop offset="0.75" stop-color="#f75106"/><stop offset="0.7917" stop-color="#f93b04"/><stop offset="0.8333" stop-color="#fb2403"/><stop offset="0.875" stop-color="#fd1001"/><stop offset="0.9167" stop-color="#fc0002"/><stop offset="0.9583" stop-color="#ef000b"/><stop offset="1" stop-color="#e20015"/></linearGradient>
<linearGradient id="g107"><stop offset="0" stop-color="#4a529e"/><stop offset="0.04167" stop-color="#4661b3"/><stop offset="0.08333" stop-color="#4375cc"/><stop offset="0.125" stop-color="#4487de"/><stop offset="0.1667" stop-color="#4796e4"/><stop offset="0.2083" stop-color="#4b9fd2"/><stop offset="0.25" stop-color="#51aaba"/><stop offset="0.2917" stop-color="#59b3a5"/><stop offset="0.3333" stop-color="#60b995"/><stop offset="0.375" stop-color="#68bc88"/><stop offset="0.4167" stop-color="#6fbe7c"/><stop offset="0.4583" stop-color="#80b76e"/><stop offset="0.5" stop-color="#93ae5d"/><stop offset="0.5417" stop-color="#aea346"/><stop offset="0.5833" stop-color="#c79930"/><stop offset="0.625" stop-color="#df8f1a"/><stop offset="0.6667" stop-color="#f2850a"/><stop offset="0.7083" stop-color="#f46e08"/><stop offset="0.75" stop-color="#f75807"/><stop offset="0.7917" stop-color="#f94105"/><stop offset="0.8333" stop-color="#fb2b03"/><stop offset="0.875" stop-color="#fd1602"/><stop offset="0.9167" stop-color="#ff0200"/><stop offset="0.9583" stop-color="#f30009"/><stop offset="1" stop-color="#e60012"/></linearGradient>
<linearGradient id="g108"><stop offset="0" stop-color="#4b4e99"/><stop offset="0.04167" stop-color="#485bab"/><stop offset="0.08333" stop-color="#446ec4"/><stop offset="0.125" stop-color="#4381da"/><stop offset="0.1667" stop-color="#4692e7"/><stop offset="0.2083" stop-color="#4a9cd8"/><stop offset="0.25" stop-color="#4fa6c3"/><stop offset="0.2917" stop-color="#56b1a9"/><stop offset="0.3333" stop-color="#5eb79a"/><stop offset="0.375" stop-color="#66bb8c"/><stop offset="0.4167" stop-color="#6cbd80"/><stop offset="0.4583" stop-color="#7bb972"/><stop offset="0.5" stop-color="#8bb263"/><stop offset="0.5417" stop-color="#a6a74c"/><stop offset="0.5833" stop-color="#bf9c36"/><stop offset="0.625" stop-color="#d99220"/><stop offset="0.6667" stop-color="#ee890d"/><stop offset="0.7083" stop-color="#f47509"/><stop offset="0.75" stop-color="#f65e07"/><stop offset="0.7917" stop-color="#f84805"/><stop offset="0.8333" stop-color="#fa3104"/><stop offset="0.875" stop-color="#fc1b02"/><stop offset="0.9167" stop-color="#fe0701"/><stop offset="0.9583" stop-color="#f60006"/><stop offset="1" stop-color="#e90010"/></linearGradient>
<linearGradient id="g109"><stop offset="0" stop-color="#4c4a94"/><stop offset="0.04167" stop-color="#4956a4"/><stop offset="0.08333" stop-color="#4568bc"/><stop offset="0.125" stop-color="#427cd6"/><stop offset="0.1667" stop-color="#458de3"/><stop offset="0.2083" stop-color="#489add"/><stop offset="0.25" stop-color="#4da3ca"/><stop offset="0.2917" stop-color="#54aeb1"/><stop offset="0.3333" stop-color="#5cb69e"/><stop offset="0.375" stop-color="#64ba8f"/><stop offset="0.4167" stop-color="#6bbd83"/><stop offset="0.4583" stop-color="#76bb76"/><stop offset="0.5" stop-color="#87b467"/><stop offset="0.5417" stop-color="#9faa52"/><stop offset="0.5833" stop-color="#b99f3c"/><stop offset="0.625" stop-color="#d29426"/><stop offset="0.6667" stop-color="#e98b12"/><stop offset="0.7083" stop-color="#f37a09"/><stop offset="0.75" stop-color="#f56407"/><stop offset="0.7917" stop-color="#f84d06"/><stop offset="0.8333" stop-color="#fa3604"/><stop offset="0.875" stop-color="#fc2002"/><stop offset="0.9167" stop-color="#fe0c01"/><stop offset="0.9583" stop-color="#f90004"/><stop offset="1" stop-color="#ec000e"/></linearGradient>
<linearGradient id="g110"><stop offset="0" stop-color="#4d478f"/><stop offset="0.04167" stop-color="#4a529f"/><stop offset="0.08333" stop-color="#4662b4"/><stop offset="0.125" stop-color="#4376ce"/><stop offset="0.1667" stop-color="#4488df"/><stop offset="0.2083" stop-color="#4797e2"/><stop offset="0.25" stop-color="#4ba0d0"/><stop offset="0.2917" stop-color="#52abb7"/><stop offset="0.3333" stop-color="#5ab4a2"/><stop offset="0.375" stop-color="#62ba93"/><stop offset="0.4167" stop-color="#69bc86"/><stop offset="0.4583" stop-color="#72bc7a"/><stop offset="0.5" stop-color="#83b56b"/><stop offset="0.5417" stop-color="#99ac58"/><stop offset="0.5833" stop-color="#b3a141"/><stop offset="0.625" stop-color="#cc972b"/><stop offset="0.6667" stop-color="#e48d16"/><stop offset="0.7083" stop-color="#f37f09"/><stop offset="0.75" stop-color="#f56808"/><stop offset="0.7917" stop-color="#f75106"/><stop offset="0.8333" stop-color="#f93b04"/><stop offset="0.875" stop-color="#fc2403"/><stop offset="0.9167" stop-color="#fe0f01"/><stop offset="0.9583" stop-color="#fc0002"/><stop offset="1" stop-color="#ee000c"/></linearGradient>
<linearGradient id="g111"><stop offset="0" stop-color="#4f448a"/><stop offset="0.04167" stop-color="#4a4f9a"/><stop offset="0.08333" stop-color="#475dae"/><stop offset="0.125" stop-color="#4471c7"/><stop offset="0.1667" stop-color="#4384dc"/><stop offset="0.2083" stop-color="#4695e7"/><stop offset="0.25" stop-color="#4a9ed4"/><stop offset="0.2917" stop-color="#50a9bd"/><stop offset="0.3333" stop-color="#58b3a6"/><stop offset="0.375" stop-color="#60b996"/><stop offset="0.4167" stop-color="#67bc89"/><stop offset="0.4583" stop-color="#6fbe7d"/><stop offset="0.5" stop-color="#80b76e"/><stop offset="0.5417" stop-color="#94ae5c"/><stop offset="0.5833" stop-color="#afa345"/><stop offset="0.625" stop-color="#c8982f"/><stop offset="0.6667" stop-color="#e18e19"/><stop offset="0.7083" stop-color="#f2830a"/><stop offset="0.75" stop-color="#f56c08"/><stop offset="0.7917" stop-color="#f75506"/><stop offset="0.8333" stop-color="#f93e05"/><stop offset="0.875" stop-color="#fb2703"/><stop offset="0.9167" stop-color="#fd1201"/><stop offset="0.9583" stop-color="#fd0001"/><stop offset="1" stop-color="#f0000b"/></linearGradient>
<linearGradient id="g112"><stop offset="0" stop-color="#504286"/><stop offset="0.04167" stop-color="#4b4c97"/><stop offset="0.08333" stop-color="#4859a8"/><stop offset="0.125" stop-color="#446dc2"/><stop offset="0.1667" stop-color="#4380da"/><stop offset="0.2083" stop-color="#4692e6"/><stop offset="0.25" stop-color="#4a9cd8"/><stop offset="0.2917" stop-color="#4fa7c2"/><stop offset="0.3333" stop-color="#57b2a9"/><stop offset="0.375" stop-color="#5fb899"/><stop offset="0.4167" stop-color="#66bb8a"/><stop offset="0.4583" stop-color="#6dbe7e"/><stop offset="0.5" stop-color="#7db870"/><stop offset="0.5417" stop-color="#90b05f"/><stop offset="0.5833" stop-color="#aca447"/><stop offset="0.625" stop-color="#c69a31"/><stop offset="0.6667" stop-color="#df8f1b"/><stop offset="0.7083" stop-color="#f2850a"/><stop offset="0.75" stop-color="#f46d08"/><stop offset="0.7917" stop-color="#f75606"/><stop offset="0.8333" stop-color="#f93f05"/><stop offset="0.875" stop-color="#fb2803"/><stop offset="0.9167" stop-color="#fd1201"/><stop offset="0.9583" stop-color="#fd0001"/><stop offset="1" stop-color="#f0000b"/></linearGradient>
<linearGradient id="g113"><stop offset="0" stop-color="#524082"/><stop offset="0.04167" stop-color="#4c4993"/><stop offset="0.08333" stop-color="#4955a3"/><stop offset="0.125" stop-color="#4568bc"/><stop offset="0.1667" stop-color="#427dd7"/><stop offset="0.2083" stop-color="#458ee4"/><stop offset="0.25" stop-color="#499adb"/><stop offset="0.2917" stop-color="#4ea5c7"/><stop offset="0.3333" stop-color="#55b0ac"/><stop offset="0.375" stop-color="#5db79b"/><stop offset="0.4167" stop-color="#65bb8c"/><stop offset="0.4583" stop-color="#6cbd80"/><stop offset="0.5" stop-color="#7bb972"/><stop offset="0.5417" stop-color="#8db162"/><stop offset="0.5833" stop-color="#a9a64a"/><stop offset="0.625" stop-color="#c39b33"/><stop offset="0.6667" stop-color="#dd901c"/><stop offset="0.7083" stop-color="#f2860a"/><stop offset="0.75" stop-color="#f46f08"/><stop offset="0.7917" stop-color="#f75806"/><stop offset="0.8333" stop-color="#f94005"/><stop offset="0.875" stop-color="#fb2903"/><stop offset="0.9167" stop-color="#fd1301"/><stop offset="0.9583" stop-color="#fe0001"/><stop offset="1" stop-color="#f0000b"/></linearGradient>
<linearGradient id="g114"><stop offset="0" stop-color="#543e7d"/><stop offset="0.04167" stop-color="#4d468e"/><stop offset="0.08333" stop-color="#4a529f"/><stop offset="0.125" stop-color="#4663b5"/><stop offset="0.1667" stop-color="#4377cf"/><stop offset="0.2083" stop-color="#448ae1"/><stop offset="0.25" stop-color="#4898e0"/><stop offset="0.2917" stop-color="#4ca2cd"/><stop offset="0.3333" stop-color="#54adb3"/><stop offset="0.375" stop-color="#5bb59f"/><stop offset="0.4167" stop-color="#64ba8f"/><stop offset="0.4583" stop-color="#6bbd83"/><stop offset="0.5" stop-color="#77ba75"/><stop offset="0.5417" stop-color="#89b366"/><stop offset="0.5833" stop-color="#a3a84f"/><stop offset="0.625" stop-color="#be9d37"/><stop offset="0.6667" stop-color="#d89220"/><stop offset="0.7083" stop-color="#ef880d"/><stop offset="0.75" stop-color="#f47309"/><stop offset="0.7917" stop-color="#f65b07"/><stop offset="0.8333" stop-color="#f84405"/><stop offset="0.875" stop-color="#fb2c03"/><stop offset="0.9167" stop-color="#fd1602"/><stop offset="0.9583" stop-color="#ff0100"/><stop offset="1" stop-color="#f2000a"/></linearGradient>
<linearGradient id="g115"><stop offset="0" stop-color="#573a76"/><stop offset="0.04167" stop-color="#4f4489"/><stop offset="0.08333" stop-color="#4a4f9a"/><stop offset="0.125" stop-color="#475dae"/><stop offset="0.1667" stop-color="#4472c8"/><stop offset="0.2083" stop-color="#4385dd"/><stop offset="0.25" stop-color="#4796e5"/><stop offset="0.2917" stop-color="#4b9fd2"/><stop offset="0.3333" stop-color="#52abb9"/><stop offset="0.375" stop-color="#5ab4a3"/><stop offset="0.4167" stop-color="#62ba93"/><stop offset="0.4583" stop-color="#69bc85"/><stop offset="0.5" stop-color="#74bc78"/><stop offset="0.5417" stop-color="#85b469"/><stop offset="0.5833" stop-color="#9eaa53"/><stop offset="0.625" stop-color="#b99f3c"/><stop offset="0.6667" stop-color="#d39425"/><stop offset="0.7083" stop-color="#eb8a10"/><stop offset="0.75" stop-color="#f47709"/><stop offset="0.7917" stop-color="#f65f07"/><stop offset="0.8333" stop-color="#f84705"/><stop offset="0.875" stop-color="#fa2f04"/><stop offset="0.9167" stop-color="#fd1902"/><stop offset="0.9583" stop-color="#ff0400"/><stop offset="1" stop-color="#f30008"/></linearGradient>
<linearGradient id="g116"><stop offset="0" stop-color="#5d3367"/><stop offset="0.04167" stop-color="#514184"/><stop offset="0.08333" stop-color="#4b4b95"/><stop offset="0.125" stop-color="#4858a6"/><stop offset="0.1667" stop-color="#456cc1"/><stop offset="0.2083" stop-color="#4381da"/><stop offset="0.25" stop-color="#4692e7"/><stop offset="0.2917" stop-color="#4a9dd7"/><stop offset="0.3333" stop-color="#50a8bf"/><stop offset="0.375" stop-color="#58b2a6"/><stop offset="0.4167" stop-color="#60b996"/><stop offset="0.4583" stop-color="#68bc88"/><stop offset="0.5" stop-color="#70bd7b"/><stop offset="0.5417" stop-color="#82b66c"/><stop offset="0.5833" stop-color="#98ac58"/><stop offset="0.625" stop-color="#b4a140"/><stop offset="0.6667" stop-color="#cf9629"/><stop offset="0.7083" stop-color="#e78b13"/><stop offset="0.75" stop-color="#f37b09"/><stop offset="0.7917" stop-color="#f56307"/><stop offset="0.8333" stop-color="#f84b06"/><stop offset="0.875" stop-color="#fa3304"/><stop offset="0.9167" stop-color="#fc1b02"/><stop offset="0.9583" stop-color="#fe0600"/><stop offset="1" stop-color="#f50007"/></linearGradient>
<linearGradient id="g117"><stop offset="0" stop-color="#652c56"/><stop offset="0.04167" stop-color="#533f7f"/><stop offset="0.08333" stop-color="#4c4890"/><stop offset="0.125" stop-color="#4954a1"/><stop offset="0.1667" stop-color="#4566ba"/><stop offset="0.2083" stop-color="#427bd5"/><stop offset="0.25" stop-color="#458ee4"/><stop offset="0.2917" stop-color="#499adc"/><stop offset="0.3333" stop-color="#4ea5c6"/><stop offset="0.375" stop-color="#56b1ab"/><stop offset="0.4167" stop-color="#5eb79a"/><stop offset="0.4583" stop-color="#66bb8b"/><stop offset="0.5" stop-color="#6dbe7e"/><stop offset="0.5417" stop-color="#7eb76f"/><stop offset="0.5833" stop-color="#93af5d"/><stop offset="0.625" stop-color="#afa345"/><stop offset="0.6667" stop-color="#ca982d"/><stop offset="0.7083" stop-color="#e38d17"/><stop offset="0.75" stop-color="#f37f09"/><stop offset="0.7917" stop-color="#f56708"/><stop offset="0.8333" stop-color="#f74f06"/><stop offset="0.875" stop-color="#fa3704"/><stop offset="0.9167" stop-color="#fc1f02"/><stop offset="0.9583" stop-color="#fe0901"/><stop offset="1" stop-color="#f70006"/></linearGradient>
<linearGradient id="g118"><stop offset="0" stop-color="#6a274a"/><stop offset="0.04167" stop-color="#553c7b"/><stop offset="0.08333" stop-color="#4e468c"/><stop offset="0.125" stop-color="#4a519d"/><stop offset="0.1667" stop-color="#4662b4"/><stop offset="0.2083" stop-color="#4377cf"/><stop offset="0.25" stop-color="#448ae1"/><stop offset="0.2917" stop-color="#4899df"/><stop offset="0.3333" stop-color="#4da3cb"/><stop offset="0.375" stop-color="#55afaf"/><stop offset="0.4167" stop-color="#5db69c"/><stop offset="0.4583" stop-color="#65bb8d"/><stop offset="0.5" stop-color="#6cbd80"/><stop offset="0.5417" stop-color="#7cb871"/><stop offset="0.5833" stop-color="#90b060"/><stop offset="0.625" stop-color="#aca447"/><stop offset="0.6667" stop-color="#c7992f"/><stop offset="0.7083" stop-color="#e28e18"/><stop offset="0.75" stop-color="#f3810a"/><stop offset="0.7917" stop-color="#f56808"/><stop offset="0.8333" stop-color="#f75006"/><stop offset="0.875" stop-color="#fa3704"/><stop offset="0.9167" stop-color="#fc1f02"/><stop offset="0.9583" stop-color="#fe0901"/><stop offset="1" stop-color="#f70006"/></linearGradient>
<linearGradient id="g119"><stop offset="0" stop-color="#6d2544"/><stop offset="0.04167" stop-color="#573a77"/><stop offset="0.08333" stop-color="#4f448a"/><stop offset="0.125" stop-color="#4a509b"/><stop offset="0.1667" stop-color="#475fb1"/><stop offset="0.2083" stop-color="#4375cc"/><stop offset="0.25" stop-color="#4488df"/><stop offset="0.2917" stop-color="#4898e1"/><stop offset="0.3333" stop-color="#4ca2cd"/><stop offset="0.375" stop-color="#54aeb2"/><stop offset="0.4167" stop-color="#5cb69e"/><stop offset="0.4583" stop-color="#65bb8e"/><stop offset="0.5" stop-color="#6cbd81"/><stop offset="0.5417" stop-color="#7bb972"/><stop offset="0.5833" stop-color="#8eb161"/><stop offset="0.625" stop-color="#aba548"/><stop offset="0.6667" stop-color="#c69930"/><stop offset="0.7083" stop-color="#e08e19"/><stop offset="0.75" stop-color="#f3820a"/><stop offset="0.7917" stop-color="#f56908"/><stop offset="0.8333" stop-color="#f75006"/><stop offset="0.875" stop-color="#fa3804"/><stop offset="0.9167" stop-color="#fc1f02"/><stop offset="0.9583" stop-color="#fe0a01"/><stop offset="1" stop-color="#f70006"/></linearGradient>
<linearGradient id="cb" x1="0" y1="0" x2="0" y2="1"><stop offset="0" stop-color="#c80028"/><stop offset="0.1192" stop-color="#ff0000"/><stop offset="0.3243" stop-color="#f2870a"/><stop offset="0.5418" stop-color="#6ebe7d"/><stop offset="0.6004" stop-color="#60b996"/><stop offset="0.6464" stop-color="#56b1aa"/><stop offset="0.6946" stop-color="#4ca2cd"/><stop offset="0.7469" stop-color="#4694e8"/><stop offset="0.7992" stop-color="#427dd7"/><stop offset="0.8515" stop-color="#4662b4"/><stop offset="0.9038" stop-color="#4c4891"/><stop offset="0.9456" stop-color="#5a366e"/><stop offset="0.977" stop-color="#68294e"/><stop offset="1" stop-color="#70233e"/></linearGradient>
</defs>
<g shape-rendering="crispEdges">
<rect x="113" y="14.5" width="540.8" height="4.7" fill="url(#g0)"/>
<rect x="113" y="18.5" width="540.8" height="4.7" fill="url(#g1)"/>
<rect x="113" y="22.5" width="540.8" height="4.7" fill="url(#g2)"/>
<rect x="113" y="26.5" width="540.8" height="4.7" fill="url(#g3)"/>
<rect x="113" y="30.5" width="540.8" height="4.7" fill="url(#g4)"/>
<rect x="113" y="34.5" width="540.8" height="4.7" fill="url(#g5)"/>
<rect x="113" y="38.5" width="540.8" height="4.7" fill="url(#g6)"/>
<rect x="113" y="42.5" width="540.8" height="4.7" fill="url(#g7)"/>
<rect x="113" y="46.5" width="540.8" height="4.7" fill="url(#g8)"/>
<rect x="113" y="50.5" width="540.8" height="4.7" fill="url(#g9)"/>
<rect x="113" y="54.5" width="540.8" height="4.7" fill="url(#g10)"/>
<rect x="113" y="58.5" width="540.8" height="4.7" fill="url(#g11)"/>
<rect x="113" y="62.5" width="540.8" height="4.7" fill="url(#g12)"/>
<rect x="113" y="66.5" width="540.8" height="4.7" fill="url(#g13)"/>
<rect x="113" y="70.5" width="540.8" height="4.7" fill="url(#g14)"/>
<rect x="113" y="74.5" width="540.8" height="4.7" fill="url(#g15)"/>
<rect x="113" y="78.5" width="540.8" height="4.7" fill="url(#g16)"/>
<rect x="113" y="82.5" width="540.8" height="4.7" fill="url(#g17)"/>
<rect x="113" y="86.5" width="540.8" height="4.7" fill="url(#g18)"/>
<rect x="113" y="90.5" width="540.8" height="4.7" fill="url(#g19)"/>
<rect x="113" y="94.5" width="540.8" height="4.7" fill="url(#g20)"/>
<rect x="113" y="98.5" width="540.8" height="4.7" fill="url(#g21)"/>
<rect x="113" y="102.5" width="540.8" height="4.7" fill="url(#g22)"/>
<rect x="113" y="106.5" width="540.8" height="4.7" fill="url(#g23)"/>
<rect x="113" y="110.5" width="540.8" height="4.7" fill="url(#g24)"/>
<rect x="113" y="114.5" width="540.8" height="4.7" fill="url(#g25)"/>
<rect x="113" y="118.5" width="540.8" height="4.7" fill="url(#g26)"/>
<rect x="113" y="122.5" width="540.8" height="4.7" fill="url(#g27)"/>
<rect x="113" y="126.5" width="540.8" height="4.7" fill="url(#g28)"/>
<rect x="113" y="130.5" width="540.8" height="4.7" fill="url(#g29)"/>
<rect x="113" y="134.5" width="540.8" height="4.7" fill="url(#g30)"/>
<rect x="113" y="138.5" width="540.8" height="4.7" fill="url(#g31)"/>
<rect x="113" y="142.5" width="540.8" height="4.7" fill="url(#g32)"/>
<rect x="113" y="146.5" width="540.8" height="4.7" fill="url(#g33)"/>
<rect x="113" y="150.5" width="540.8" height="4.7" fill="url(#g34)"/>
<rect x="113" y="154.5" width="540.8" height="4.7" fill="url(#g35)"/>
<rect x="113" y="158.5" width="540.8" height="4.7" fill="url(#g36)"/>
<rect x="113" y="162.5" width="540.8" height="4.7" fill="url(#g37)"/>
<rect x="113" y="166.5" width="540.8" height="4.7" fill="url(#g38)"/>
<rect x="113" y="170.5" width="540.8" height="4.7" fill="url(#g39)"/>
<rect x="113" y="174.5" width="540.8" height="4.7" fill="url(#g40)"/>
<rect x="113" y="178.5" width="540.8" height="4.7" fill="url(#g41)"/>
<rect x="113" y="182.5" width="540.8" height="4.7" fill="url(#g42)"/>
<rect x="113" y="186.5" width="540.8" height="4.7" fill="url(#g43)"/>
<rect x="113" y="190.5" width="540.8" height="4.7" fill="url(#g44)"/>
<rect x="113" y="194.5" width="540.8" height="4.7" fill="url(#g45)"/>
<rect x="113" y="198.5" width="540.8" height="4.7" fill="url(#g46)"/>
<rect x="113" y="202.5" width="540.8" height="4.7" fill="url(#g47)"/>
<rect x="113" y="206.5" width="540.8" height="4.7" fill="url(#g48)"/>
<rect x="113" y="210.5" width="540.8" height="4.7" fill="url(#g49)"/>
<rect x="113" y="214.5" width="540.8" height="4.7" fill="url(#g50)"/>
<rect x="113" y="218.5" width="540.8" height="4.7" fill="url(#g51)"/>
<rect x="113" y="222.5" width="540.8" height="4.7" fill="url(#g52)"/>
<rect x="113" y="226.5" width="540.8" height="4.7" fill="url(#g53)"/>
<rect x="113" y="230.5" width="540.8" height="4.7" fill="url(#g54)"/>
<rect x="113" y="234.5" width="540.8" height="4.7" fill="url(#g55)"/>
<rect x="113" y="238.5" width="540.8" height="4.7" fill="url(#g56)"/>
<rect x="113" y="242.5" width="540.8" height="4.7" fill="url(#g57)"/>
<rect x="113" y="246.5" width="540.8" height="4.7" fill="url(#g58)"/>
<rect x="113" y="250.5" width="540.8" height="4.7" fill="url(#g59)"/>
<rect x="113" y="254.5" width="540.8" height="4.7" fill="url(#g60)"/>
<rect x="113" y="258.5" width="540.8" height="4.7" fill="url(#g61)"/>
<rect x="113" y="262.5" width="540.8" height="4.7" fill="url(#g62)"/>
<rect x="113" y="266.5" width="540.8" height="4.7" fill="url(#g63)"/>
<rect x="113" y="270.5" width="540.8" height="4.7" fill="url(#g64)"/>
<rect x="113" y="274.5" width="540.8" height="4.7" fill="url(#g65)"/>
<rect x="113" y="278.5" width="540.8" height="4.7" fill="url(#g66)"/>
<rect x="113" y="282.5" width="540.8" height="4.7" fill="url(#g67)"/>
<rect x="113" y="286.5" width="540.8" height="4.7" fill="url(#g68)"/>
<rect x="113" y="290.5" width="540.8" height="4.7" fill="url(#g69)"/>
<rect x="113" y="294.5" width="540.8" height="4.7" fill="url(#g70)"/>
<rect x="113" y="298.5" width="540.8" height="4.7" fill="url(#g71)"/>
<rect x="113" y="302.5" width="540.8" height="4.7" fill="url(#g72)"/>
<rect x="113" y="306.5" width="540.8" height="4.7" fill="url(#g73)"/>
<rect x="113" y="310.5" width="540.8" height="4.7" fill="url(#g74)"/>
<rect x="113" y="314.5" width="540.8" height="4.7" fill="url(#g75)"/>
<rect x="113" y="318.5" width="540.8" height="4.7" fill="url(#g76)"/>
<rect x="113" y="322.5" width="540.8" height="4.7" fill="url(#g77)"/>
<rect x="113" y="326.5" width="540.8" height="4.7" fill="url(#g78)"/>
<rect x="113" y="330.5" width="540.8" height="4.7" fill="url(#g79)"/>
<rect x="113" y="334.5" width="540.8" height="4.7" fill="url(#g80)"/>
<rect x="113" y="338.5" width="540.8" height="4.7" fill="url(#g81)"/>
<rect x="113" y="342.5" width="540.8" height="4.7" fill="url(#g82)"/>
<rect x="113" y="346.5" width="540.8" height="4.7" fill="url(#g83)"/>
<rect x="113" y="350.5" width="540.8" height="4.7" fill="url(#g84)"/>
<rect x="113" y="354.5" width="540.8" height="4.7" fill="url(#g85)"/>
<rect x="113" y="358.5" width="540.8" height="4.7" fill="url(#g86)"/>
<rect x="113" y="362.5" width="540.8" height="4.7" fill="url(#g87)"/>
<rect x="113" y="366.5" width="540.8" height="4.7" fill="url(#g88)"/>
<rect x="113" y="370.5" width="540.8" height="4.7" fill="url(#g89)"/>
<rect x="113" y="374.5" width="540.8" height="4.7" fill="url(#g90)"/>
<rect x="113" y="378.5" width="540.8" height="4.7" fill="url(#g91)"/>
<rect x="113" y="382.5" width="540.8" height="4.7" fill="url(#g92)"/>
<rect x="113" y="386.5" width="540.8" height="4.7" fill="url(#g93)"/>
<rect x="113" y="390.5" width="540.8" height="4.7" fill="url(#g94)"/>
<rect x="113" y="394.5" width="540.8" height="4.7" fill="url(#g95)"/>
<rect x="113" y="398.5" width="540.8" height="4.7" fill="url(#g96)"/>
<rect x="113" y="402.5" width="540.8" height="4.7" fill="url(#g97)"/>
<rect x="113" y="406.5" width="540.8" height="4.7" fill="url(#g98)"/>
<rect x="113" y="410.5" width="540.8" height="4.7" fill="url(#g99)"/>
<rect x="113" y="414.5" width="540.8" height="4.7" fill="url(#g100)"/>
<rect x="113" y="418.5" width="540.8" height="4.7" fill="url(#g101)"/>
<rect x="113" y="422.5" width="540.8" height="4.7" fill="url(#g102)"/>
<rect x="113" y="426.5" width="540.8" height="4.7" fill="url(#g103)"/>
<rect x="113" y="430.5" width="540.8" height="4.7" fill="url(#g104)"/>
<rect x="113" y="434.5" width="540.8" height="4.7" fill="url(#g105)"/>
<rect x="113" y="438.5" width="540.8" height="4.7" fill="url(#g106)"/>
<rect x="113" y="442.5" width="540.8" height="4.7" fill="url(#g107)"/>
<rect x="113" y="446.5" width="540.8" height="4.7" fill="url(#g108)"/>
<rect x="113" y="450.5" width="540.8" height="4.7" fill="url(#g109)"/>
<rect x="113" y="454.5" width="540.8" height="4.7" fill="url(#g110)"/>
<rect x="113" y="458.5" width="540.8" height="4.7" fill="url(#g111)"/>
<rect x="113" y="462.5" width="540.8" height="4.7" fill="url(#g112)"/>
<rect x="113" y="466.5" width="540.8" height="4.7" fill="url(#g113)"/>
<rect x="113" y="470.5" width="540.8" height="4.7" fill="url(#g114)"/>
<rect x="113" y="474.5" width="540.8" height="4.7" fill="url(#g115)"/>
<rect x="113" y="478.5" width="540.8" height="4.7" fill="url(#g116)"/>
<rect x="113" y="482.5" width="540.8" height="4.7" fill="url(#g117)"/>
<rect x="113" y="486.5" width="540.8" height="4.7" fill="url(#g118)"/>
<rect x="113" y="490.5" width="540.8" height="1.3" fill="url(#g119)"/>
</g>
<rect x="665" y="13" width="41" height="478" fill="url(#cb)"/>
<polyline points="355.8,15.2 355.8,16.2 355.7,20.1 344.6,23.4 344.1,27.1 327.6,30.6 327.2,34.2 307.3,37.7 306.9,41.3 292,44.8 291.5,48.5 276.6,52 276.1,55.7 264.1,59 263.7,62.8 254.7,66.3 254.3,70 241,73.5 240.5,77.2 229.5,80.6 229.1,84.3 215.7,87.7 215.3,91.4 207.4,94.9 207,98.6 199.7,102 199.4,105.8 192.7,109.1 192.3,112.9 184.9,116.2 184.5,120 176.7,123.5 176.4,127.3 171.2,130.6 171,134.4 166.6,137.8 166.4,141.6 163.7,144.8 163.5,148.6 160.6,152 160.4,155.9 157.1,159.2 156.8,163 152.7,166.4 152.5,170.2 148.7,173.4 148.4,177.2 145.1,180.6 144.9,184.4 148.8,187.9 149.2,191.6 149.9,195 149.7,198.8 146.4,202.2 146.2,206 144.4,209.3 144.3,213.2 143.1,216.3 143,220.2 142.1,223.6 142.1,227.4 142.3,230.7 142.3,234.5 142.5,237.8 142.6,241.6 143.3,245.1 143.4,248.9 144.8,252.1 144.9,255.9 146.4,259.3 146.5,263.1 148.1,266.5 148.2,270.3 149.7,273.5 149.8,277.3 151.5,280.7 151.6,284.5 153.3,287.9 153.5,291.7 155.2,295.1 155.3,299 156.9,302.1 157,305.9 163.4,309.4 163.7,313.2 169.2,316.4 169.5,320.2 175.1,323.7 175.4,327.5 185.7,330.8 186.2,334.5 199.4,338 199.9,341.7 212.1,345.1 212.6,348.8 218.1,352.2 218.4,356 222.7,359.4 222.9,363.1 227.4,366.5 227.7,370.3 232.6,373.7 232.9,377.5 237.9,380.9 238.2,384.7 242.7,388 242.9,391.8 247.1,395.2 247.4,399 251.3,402.2 251.6,406 256.6,409.4 256.9,413.1 264.7,416.6 265.1,420.4 272.6,423.7 273,427.4 282.2,430.9 282.6,434.6 295.3,438.1 295.7,441.8 307.9,445.2 308.3,448.9 318.2,452.3 318.6,456 326.5,459.5 326.8,463.2 334.7,466.7 335.1,470.4 342.6,473.7 343,477.5 350.9,480.9 351.3,484.7 357.8,488.1" fill="none" stroke="#0a0a0a" stroke-width="1.5" stroke-linejoin="round"/>
<polyline points="652.4,56.4 639,59.1 638.5,62.8 619.3,66.3 618.8,70 600.1,73.4 599.6,77.1 580.3,80.6 579.9,84.2 556.4,87.8 555.9,91.4 535.1,94.9 534.6,98.5 521.5,102.1 521.1,105.8 508.3,109.2 507.9,112.9 496.2,116.3 495.8,120 482.6,123.5 482.1,127.2 468.8,130.6 468.3,134.3 458,137.7 457.7,141.5 452.6,144.9 452.3,148.7 446.5,152.1 446.1,155.8 435.1,159.3 434.7,163 423.6,166.4 423.2,170.1 412.7,173.5 412.3,177.2 405,180.5 404.7,184.3 402.5,187.9 402.7,191.6 403.7,194.9 403.3,198.7 394.1,202.2 393.7,205.9 384.5,209.3 384.2,213.1 378.8,216.4 378.5,220.1 373.2,223.5 372.9,227.3 368.7,230.6 368.5,234.5 365.6,237.9 365.4,241.7 362.6,244.9 362.4,248.7 359.7,252.2 359.6,256 357.4,259.3 357.2,263.2 355,266.5 354.8,270.3 353.1,273.7 353,277.5 351.6,280.7 351.5,284.5 350.1,287.9 349.9,291.7 349.1,294.9 349.1,298.8 349.5,302.3 349.5,306.1 351.5,309.3 351.7,313.1 355.5,316.4 355.7,320.2 359,323.5 359.1,327.3 364.4,330.8 364.8,334.5 377.5,338 377.9,341.6 389.4,345.1 389.7,348.8 395.8,352.2 395.9,356.1 397.5,359.5 397.6,363.3 399.1,366.4 399.2,370.3 400.8,373.7 400.9,377.5 402.3,380.9 402.5,384.7 403.8,387.9 403.9,391.7 406.2,395 406.3,398.9 408.9,402.4 409.1,406.2 411.5,409.5 411.7,413.3 415.4,416.5 415.6,420.3 419.2,423.6 419.5,427.4 427.8,430.9 428.2,434.6 438.6,438.1 439,441.8 450.1,445.2 450.5,448.9 461.5,452.4 461.9,456.1 467.7,459.5 468,463.3 473.5,466.6 473.8,470.3 479.6,473.8 479.9,477.6 486.4,481 486.7,484.8 491.9,488.1" fill="none" stroke="#0a0a0a" stroke-width="1.5" stroke-linejoin="round"/>
<polyline points="652.4,172.4 646.3,173.5 645.9,177.2 632.7,180.6 632.3,184.3 623.1,187.8 622.7,191.5 612.9,195 612.5,198.7 604.4,202.1 604,205.8 595,209.3 594.6,213 584.1,216.5 583.7,220.2 575.1,223.6 574.7,227.3 566.7,230.7 566.3,234.4 558.9,237.8 558.6,241.6 552.7,245 552.4,248.7 546.7,252.2 546.3,256 541.1,259.3 540.8,263.1 535.6,266.5 535.3,270.2 530.2,273.7 529.9,277.4 524.9,280.8 524.6,284.6 519.8,287.8 519.5,291.6 514.7,295 514.6,298.9 513.3,302.1 513.2,305.9 512.9,309.3 513,313.1 514.6,316.5 514.7,320.3 516.2,323.5 516.3,327.3 530.1,330.8 530.4,334.6 537,338 537.4,341.8 546,345.1 546.4,348.8 547.1,352.2 547.1,356 547.2,359.3 547.2,363.1 546.9,366.6 546.8,370.4 545.5,373.6 545.4,377.4 544,380.8 543.9,384.6 543.4,387.9 543.4,391.7 543.5,395.2 543.5,399 543.6,402.3 543.6,406.1 544.4,409.5 544.6,413.3 546.7,416.7 546.8,420.5 549.9,423.8 550.2,427.6 555.7,430.9 556,434.6 565.7,438.1 566.2,441.8 576.5,445.2 577,449 585.3,452.4 585.6,456.2 589.6,459.4 589.9,463.2 594.5,466.7 594.7,470.5 599.4,473.8 599.7,477.5 603.8,481 604.1,484.8 607,488.2" fill="none" stroke="#0a0a0a" stroke-width="1.5" stroke-linejoin="round"/>
<polyline points="113,189.1 129.2,189.1 129.2,236.2 180,236.2 180,242.3 227.2,242.3 227.2,280.3 254.1,280.3 254.1,289.4 271.6,289.4 271.6,296.8 285.1,296.8 285.1,306.9 598.1,306.9 598.1,328.5 653,328.5" fill="none" stroke="#fff" stroke-width="3.5" stroke-linejoin="miter"/>
<path d="M180.6 13v14M180.6 493v-14M248.2 13v14M248.2 493v-14M315.8 13v14M315.8 493v-14M383.4 13v14M383.4 493v-14M451 13v14M451 493v-14M518.6 13v14M518.6 493v-14M586.2 13v14M586.2 493v-14" stroke="#000" stroke-width="3.6" fill="none"/>
<path d="M133.3 13v7.6M133.3 493v-7.6M145.3 13v7.6M145.3 493v-7.6M153.7 13v7.6M153.7 493v-7.6M160.2 13v7.6M160.2 493v-7.6M165.6 13v7.6M165.6 493v-7.6M170.1 13v7.6M170.1 493v-7.6M174 13v7.6M174 493v-7.6M177.5 13v7.6M177.5 493v-7.6M200.9 13v7.6M200.9 493v-7.6M212.8 13v7.6M212.8 493v-7.6M221.3 13v7.6M221.3 493v-7.6M227.8 13v7.6M227.8 493v-7.6M233.2 13v7.6M233.2 493v-7.6M237.7 13v7.6M237.7 493v-7.6M241.6 13v7.6M241.6 493v-7.6M245.1 13v7.6M245.1 493v-7.6M268.5 13v7.6M268.5 493v-7.6M280.4 13v7.6M280.4 493v-7.6M288.9 13v7.6M288.9 493v-7.6M295.4 13v7.6M295.4 493v-7.6M300.8 13v7.6M300.8 493v-7.6M305.3 13v7.6M305.3 493v-7.6M309.2 13v7.6M309.2 493v-7.6M312.7 13v7.6M312.7 493v-7.6M336.1 13v7.6M336.1 493v-7.6M348 13v7.6M348 493v-7.6M356.5 13v7.6M356.5 493v-7.6M363 13v7.6M363 493v-7.6M368.4 13v7.6M368.4 493v-7.6M372.9 13v7.6M372.9 493v-7.6M376.8 13v7.6M376.8 493v-7.6M380.3 13v7.6M380.3 493v-7.6M403.7 13v7.6M403.7 493v-7.6M415.6 13v7.6M415.6 493v-7.6M424.1 13v7.6M424.1 493v-7.6M430.6 13v7.6M430.6 493v-7.6M436 13v7.6M436 493v-7.6M440.5 13v7.6M440.5 493v-7.6M444.4 13v7.6M444.4 493v-7.6M447.9 13v7.6M447.9 493v-7.6M471.3 13v7.6M471.3 493v-7.6M483.2 13v7.6M483.2 493v-7.6M491.7 13v7.6M491.7 493v-7.6M498.2 13v7.6M498.2 493v-7.6M503.6 13v7.6M503.6 493v-7.6M508.1 13v7.6M508.1 493v-7.6M512 13v7.6M512 493v-7.6M515.5 13v7.6M515.5 493v-7.6M538.9 13v7.6M538.9 493v-7.6M550.8 13v7.6M550.8 493v-7.6M559.3 13v7.6M559.3 493v-7.6M565.8 13v7.6M565.8 493v-7.6M571.2 13v7.6M571.2 493v-7.6M575.7 13v7.6M575.7 493v-7.6M579.6 13v7.6M579.6 493v-7.6M583.1 13v7.6M583.1 493v-7.6M606.5 13v7.6M606.5 493v-7.6M618.4 13v7.6M618.4 493v-7.6M626.9 13v7.6M626.9 493v-7.6M633.4 13v7.6M633.4 493v-7.6M638.8 13v7.6M638.8 493v-7.6M643.3 13v7.6M643.3 493v-7.6M647.2 13v7.6M647.2 493v-7.6M650.7 13v7.6M650.7 493v-7.6" stroke="#000" stroke-width="3.1" fill="none"/>
<path d="M110.9 62.2h7.7M655.6 62.2h-7.7M110.9 109.8h13.6M655.6 109.8h-13.6M110.9 157.5h7.7M655.6 157.5h-7.7M110.9 205.1h13.6M655.6 205.1h-13.6M110.9 252.8h7.7M655.6 252.8h-7.7M110.9 300.5h13.6M655.6 300.5h-13.6M110.9 348.1h7.7M655.6 348.1h-7.7M110.9 395.8h13.6M655.6 395.8h-13.6M110.9 443.4h7.7M655.6 443.4h-7.7" stroke="#000" stroke-width="3.2" fill="none"/>
<rect x="112.75" y="14.6" width="541" height="476.7" fill="none" stroke="#000" stroke-width="3.5"/>
<text x="96.3" y="23.6" font-size="34" text-anchor="end">2.0</text>
<text x="96.3" y="118.9" font-size="34" text-anchor="end">1.8</text>
<text x="96.3" y="214.2" font-size="34" text-anchor="end">1.6</text>
<text x="96.3" y="309.6" font-size="34" text-anchor="end">1.4</text>
<text x="96.3" y="404.9" font-size="34" text-anchor="end">1.2</text>
<text x="96.3" y="500.2" font-size="34" text-anchor="end">1.0</text>
<text x="82.9" y="535.8" font-size="34">10<tspan dy="-11.6" dx="-1.2" font-size="23.5">−8</tspan></text>
<text x="218.1" y="535.8" font-size="34">10<tspan dy="-11.6" dx="-1.2" font-size="23.5">−6</tspan></text>
<text x="353.3" y="535.8" font-size="34">10<tspan dy="-11.6" dx="-1.2" font-size="23.5">−4</tspan></text>
<text x="488.5" y="535.8" font-size="34">10<tspan dy="-11.6" dx="-1.2" font-size="23.5">−2</tspan></text>
<text x="632.5" y="535.8" font-size="34">10<tspan dy="-11.6" dx="-1.2" font-size="23.5">0</tspan></text>
<text x="345" y="584.3" font-size="34"><tspan font-style="italic">Q</tspan><tspan dy="8.7" font-size="24">LED</tspan></text>
<text transform="translate(27,248) rotate(-90)" font-size="33.1" text-anchor="middle">Band gap <tspan font-style="italic">E</tspan><tspan dy="5.5" font-size="23">g</tspan><tspan dy="-5.5"> (eV)</tspan></text>
<text x="715.4" y="23.4" font-size="34">34</text>
<text x="715.4" y="119" font-size="34">29</text>
<text x="715.4" y="214.6" font-size="34">24</text>
<text x="715.4" y="310.2" font-size="34">19</text>
<text x="715.4" y="405.8" font-size="34">15</text>
<text x="715.4" y="501.4" font-size="34">10</text>
<text transform="translate(797.5,237.5) rotate(-90)" font-size="33" text-anchor="middle">Efficiency <tspan font-style="italic" font-family="Liberation Serif,serif" font-size="35" stroke-width="0.15">η</tspan> (%)</text>
</svg></body></html>
